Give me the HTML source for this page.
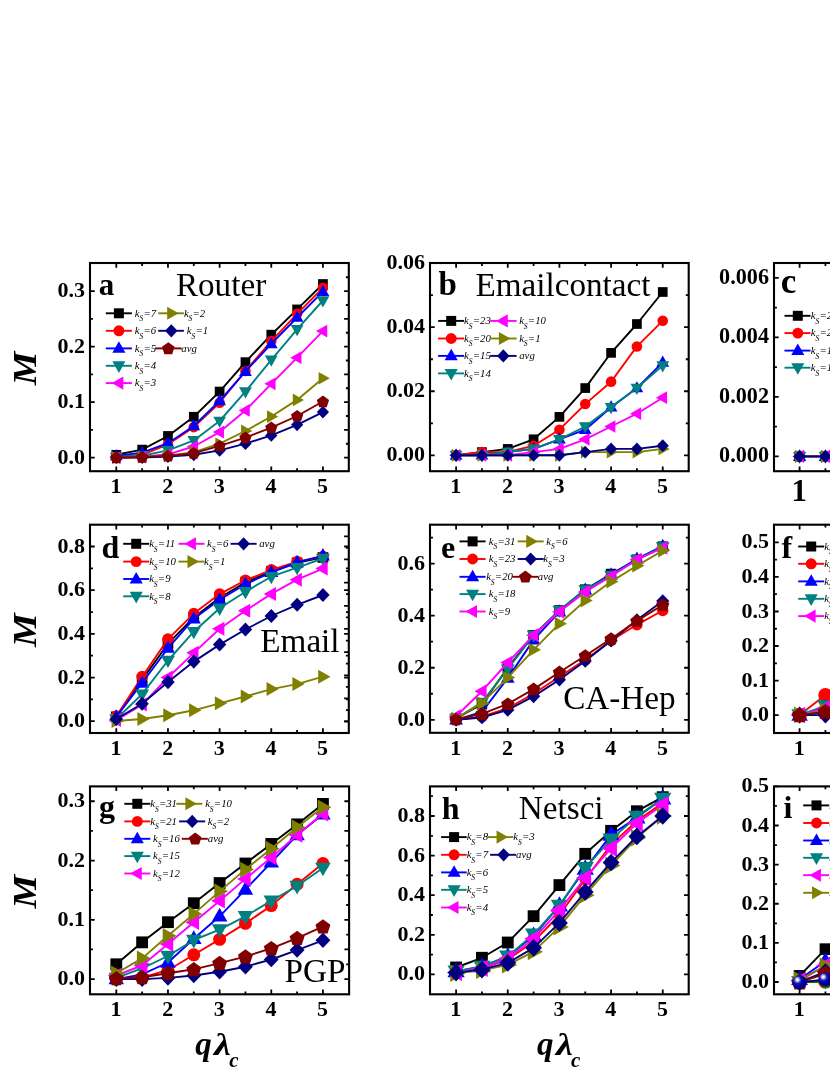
<!DOCTYPE html>
<html><head><meta charset="utf-8"><title>Figure</title>
<style>html,body{margin:0;padding:0;background:#fff}body{width:830px;height:1075px;overflow:hidden;font-family:"Liberation Serif",serif}svg{display:block;will-change:transform}</style>
</head><body>
<svg width="830" height="1075" viewBox="0 0 830 1075" font-family="'Liberation Serif', serif" fill="#000">
<defs><radialGradient id="ball" cx="0.36" cy="0.33" r="0.72" fx="0.34" fy="0.31"><stop offset="0" stop-color="#ffffff"/><stop offset="0.12" stop-color="#e0e0fa"/><stop offset="0.36" stop-color="#1818b8"/><stop offset="0.6" stop-color="#0000a0"/><stop offset="1" stop-color="#000078"/></radialGradient></defs>
<rect width="830" height="1075" fill="#fff"/>
<polyline fill="none" stroke="#000000" stroke-width="1.9" stroke-linejoin="round" points="116.3,454.8 142.1,449.6 168.0,436.0 193.8,416.8 219.6,391.6 245.4,362.1 271.3,334.7 297.1,309.4 322.9,284.0"/>
<rect x="111.45" y="449.98" width="9.7" height="9.7" fill="#000000"/>
<rect x="137.28" y="444.76" width="9.7" height="9.7" fill="#000000"/>
<rect x="163.11" y="431.11" width="9.7" height="9.7" fill="#000000"/>
<rect x="188.94" y="411.9" width="9.7" height="9.7" fill="#000000"/>
<rect x="214.77" y="386.7" width="9.7" height="9.7" fill="#000000"/>
<rect x="240.6" y="357.29" width="9.7" height="9.7" fill="#000000"/>
<rect x="266.43" y="329.82" width="9.7" height="9.7" fill="#000000"/>
<rect x="292.26" y="304.56" width="9.7" height="9.7" fill="#000000"/>
<rect x="318.09" y="279.15" width="9.7" height="9.7" fill="#000000"/>
<polyline fill="none" stroke="#ff0000" stroke-width="1.9" stroke-linejoin="round" points="116.3,457.0 142.1,454.8 168.0,444.3 193.8,427.1 219.6,402.7 245.4,371.0 271.3,341.1 297.1,313.9 322.9,287.8"/>
<circle cx="116.3" cy="457.05" r="5.3" fill="#ff0000"/>
<circle cx="142.13" cy="454.83" r="5.3" fill="#ff0000"/>
<circle cx="167.96" cy="444.28" r="5.3" fill="#ff0000"/>
<circle cx="193.79" cy="427.08" r="5.3" fill="#ff0000"/>
<circle cx="219.62" cy="402.66" r="5.3" fill="#ff0000"/>
<circle cx="245.45" cy="371.02" r="5.3" fill="#ff0000"/>
<circle cx="271.28" cy="341.05" r="5.3" fill="#ff0000"/>
<circle cx="297.11" cy="313.86" r="5.3" fill="#ff0000"/>
<circle cx="322.94" cy="287.77" r="5.3" fill="#ff0000"/>
<polyline fill="none" stroke="#0000ff" stroke-width="1.9" stroke-linejoin="round" points="116.3,455.9 142.1,452.6 168.0,443.2 193.8,426.0 219.6,401.0 245.4,371.6 271.3,343.8 297.1,317.5 322.9,291.7"/>
<polygon points="116.3,449.04 109.95,460.24 122.65,460.24" fill="#0000ff"/>
<polygon points="142.13,445.71 135.78,456.91 148.48,456.91" fill="#0000ff"/>
<polygon points="167.96,436.27 161.61,447.47 174.31,447.47" fill="#0000ff"/>
<polygon points="193.79,419.07 187.44,430.27 200.14,430.27" fill="#0000ff"/>
<polygon points="219.62,394.09 213.27,405.29 225.97,405.29" fill="#0000ff"/>
<polygon points="245.45,364.68 239.1,375.88 251.8,375.88" fill="#0000ff"/>
<polygon points="271.28,336.93 264.93,348.13 277.63,348.13" fill="#0000ff"/>
<polygon points="297.11,310.56 290.76,321.76 303.46,321.76" fill="#0000ff"/>
<polygon points="322.94,284.76 316.59,295.96 329.29,295.96" fill="#0000ff"/>
<polyline fill="none" stroke="#008080" stroke-width="1.9" stroke-linejoin="round" points="116.3,457.0 142.1,455.7 168.0,450.4 193.8,440.4 219.6,421.0 245.4,391.6 271.3,359.9 297.1,329.4 322.9,300.5"/>
<polygon points="116.3,463.94 109.95,452.75 122.65,452.75" fill="#008080"/>
<polygon points="142.13,462.56 135.78,451.36 148.48,451.36" fill="#008080"/>
<polygon points="167.96,457.29 161.61,446.09 174.31,446.09" fill="#008080"/>
<polygon points="193.79,447.3 187.44,436.1 200.14,436.1" fill="#008080"/>
<polygon points="219.62,427.87 213.27,416.67 225.97,416.67" fill="#008080"/>
<polygon points="245.45,398.45 239.1,387.25 251.8,387.25" fill="#008080"/>
<polygon points="271.28,366.82 264.93,355.62 277.63,355.62" fill="#008080"/>
<polygon points="297.11,336.29 290.76,325.09 303.46,325.09" fill="#008080"/>
<polygon points="322.94,307.44 316.59,296.24 329.29,296.24" fill="#008080"/>
<polyline fill="none" stroke="#ff00ff" stroke-width="1.9" stroke-linejoin="round" points="116.3,457.6 142.1,457.0 168.0,454.3 193.8,446.5 219.6,432.1 245.4,410.4 271.3,383.8 297.1,357.7 322.9,331.1"/>
<polygon points="109.4,457.6 120.6,451.25 120.6,463.95" fill="#ff00ff"/>
<polygon points="135.23,457.05 146.43,450.69 146.43,463.4" fill="#ff00ff"/>
<polygon points="161.06,454.27 172.26,447.92 172.26,460.62" fill="#ff00ff"/>
<polygon points="186.89,446.5 198.09,440.15 198.09,452.85" fill="#ff00ff"/>
<polygon points="212.72,432.07 223.92,425.72 223.92,438.42" fill="#ff00ff"/>
<polygon points="238.55,410.43 249.75,404.07 249.75,416.78" fill="#ff00ff"/>
<polygon points="264.38,383.79 275.58,377.44 275.58,390.14" fill="#ff00ff"/>
<polygon points="290.21,357.7 301.41,351.35 301.41,364.05" fill="#ff00ff"/>
<polygon points="316.04,331.06 327.24,324.71 327.24,337.41" fill="#ff00ff"/>
<polyline fill="none" stroke="#808000" stroke-width="1.9" stroke-linejoin="round" points="116.3,457.6 142.1,457.0 168.0,455.7 193.8,452.1 219.6,443.7 245.4,431.0 271.3,416.5 297.1,399.9 322.9,378.2"/>
<polygon points="123.2,457.6 112,451.25 112,463.95" fill="#808000"/>
<polygon points="149.03,457.05 137.83,450.69 137.83,463.4" fill="#808000"/>
<polygon points="174.86,455.66 163.66,449.31 163.66,462.01" fill="#808000"/>
<polygon points="200.69,452.05 189.49,445.7 189.49,458.4" fill="#808000"/>
<polygon points="226.52,443.73 215.32,437.38 215.32,450.08" fill="#808000"/>
<polygon points="252.35,430.96 241.15,424.61 241.15,437.31" fill="#808000"/>
<polygon points="278.18,416.53 266.98,410.18 266.98,422.88" fill="#808000"/>
<polygon points="304.01,399.88 292.81,393.53 292.81,406.23" fill="#808000"/>
<polygon points="329.84,378.24 318.64,371.88 318.64,384.59" fill="#808000"/>
<polyline fill="none" stroke="#000080" stroke-width="1.9" stroke-linejoin="round" points="116.3,457.6 142.1,457.6 168.0,456.5 193.8,454.8 219.6,450.4 245.4,443.7 271.3,435.4 297.1,424.9 322.9,412.1"/>
<polygon points="116.3,451.2 122.4,457.6 116.3,464 110.2,457.6" fill="#000080"/>
<polygon points="142.13,451.2 148.23,457.6 142.13,464 136.03,457.6" fill="#000080"/>
<polygon points="167.96,450.09 174.06,456.49 167.96,462.89 161.86,456.49" fill="#000080"/>
<polygon points="193.79,448.43 199.89,454.83 193.79,461.23 187.69,454.83" fill="#000080"/>
<polygon points="219.62,443.99 225.72,450.39 219.62,456.79 213.52,450.39" fill="#000080"/>
<polygon points="245.45,437.33 251.55,443.73 245.45,450.12 239.35,443.73" fill="#000080"/>
<polygon points="271.28,429 277.38,435.4 271.28,441.8 265.18,435.4" fill="#000080"/>
<polygon points="297.11,418.46 303.21,424.86 297.11,431.25 291.01,424.86" fill="#000080"/>
<polygon points="322.94,405.69 329.04,412.09 322.94,418.49 316.84,412.09" fill="#000080"/>
<polyline fill="none" stroke="#800000" stroke-width="1.9" stroke-linejoin="round" points="116.3,457.6 142.1,457.0 168.0,455.9 193.8,453.2 219.6,445.9 245.4,437.6 271.3,427.6 297.1,416.0 322.9,401.5"/>
<polygon points="116.3,451.55 122.43,456.01 120.09,463.22 112.51,463.22 110.17,456.01" fill="#800000"/>
<polygon points="142.13,451 148.26,455.45 145.92,462.66 138.34,462.66 136,455.45" fill="#800000"/>
<polygon points="167.96,449.88 174.09,454.34 171.75,461.55 164.17,461.55 161.83,454.34" fill="#800000"/>
<polygon points="193.79,447.11 199.92,451.57 197.58,458.78 190,458.78 187.66,451.57" fill="#800000"/>
<polygon points="219.62,439.9 225.75,444.35 223.41,451.56 215.83,451.56 213.49,444.35" fill="#800000"/>
<polygon points="245.45,431.57 251.58,436.03 249.24,443.24 241.66,443.24 239.32,436.03" fill="#800000"/>
<polygon points="271.28,421.58 277.41,426.04 275.07,433.25 267.49,433.25 265.15,426.04" fill="#800000"/>
<polygon points="297.11,409.93 303.24,414.38 300.9,421.59 293.32,421.59 290.98,414.38" fill="#800000"/>
<polygon points="322.94,395.5 329.07,399.95 326.73,407.16 319.15,407.16 316.81,399.95" fill="#800000"/>
<path d="M116.30 471.20v-4.70 M116.30 263.00v4.70 M167.96 471.20v-4.70 M167.96 263.00v4.70 M219.62 471.20v-4.70 M219.62 263.00v4.70 M271.28 471.20v-4.70 M271.28 263.00v4.70 M322.94 471.20v-4.70 M322.94 263.00v4.70 M142.13 471.20v-2.90 M142.13 263.00v2.90 M193.79 471.20v-2.90 M193.79 263.00v2.90 M245.45 471.20v-2.90 M245.45 263.00v2.90 M297.11 471.20v-2.90 M297.11 263.00v2.90 M90.00 457.60h4.70 M90.00 402.10h4.70 M90.00 346.60h4.70 M90.00 291.10h4.70 M90.00 429.85h2.90 M90.00 374.35h2.90 M90.00 318.85h2.90 M348.80 457.60h-4.70 M348.80 429.85h-4.70 M348.80 402.10h-4.70 M348.80 374.35h-4.70 M348.80 346.60h-4.70 M348.80 318.85h-4.70 M348.80 291.10h-4.70 M348.80 443.73h-2.90 M348.80 415.98h-2.90 M348.80 388.23h-2.90 M348.80 360.48h-2.90 M348.80 332.73h-2.90 M348.80 304.98h-2.90 M348.80 277.23h-2.90" stroke="#000" stroke-width="1.8" fill="none"/>
<rect x="90.00" y="263.00" width="258.80" height="208.20" fill="none" stroke="#000" stroke-width="2.1"/>
<text x="116.0" y="493.2" text-anchor="middle" font-weight="bold" font-size="22">1</text>
<text x="167.7" y="493.2" text-anchor="middle" font-weight="bold" font-size="22">2</text>
<text x="219.3" y="493.2" text-anchor="middle" font-weight="bold" font-size="22">3</text>
<text x="271.0" y="493.2" text-anchor="middle" font-weight="bold" font-size="22">4</text>
<text x="322.6" y="493.2" text-anchor="middle" font-weight="bold" font-size="22">5</text>
<text x="85.0" y="463.6" text-anchor="end" font-weight="bold" font-size="22">0.0</text>
<text x="85.0" y="408.1" text-anchor="end" font-weight="bold" font-size="22">0.1</text>
<text x="85.0" y="352.6" text-anchor="end" font-weight="bold" font-size="22">0.2</text>
<text x="85.0" y="297.1" text-anchor="end" font-weight="bold" font-size="22">0.3</text>
<text x="98.8" y="295.4" font-weight="bold" font-size="31">a</text>
<text x="175.9" y="296.2" font-size="33.2">Router</text>
<path d="M105.8 313.3H131.9" stroke="#000000" stroke-width="1.9"/>
<rect x="113.9" y="308.3" width="9.99" height="9.99" fill="#000000"/>
<text x="134.8" y="316.6" font-style="italic" font-size="10.8">k<tspan font-size="7.5" dy="4.6" dx="-0.2">S</tspan><tspan dy="-4.6" dx="0.3">=7</tspan></text>
<path d="M105.8 330.8H131.9" stroke="#ff0000" stroke-width="1.9"/>
<circle cx="118.9" cy="330.8" r="5.46" fill="#ff0000"/>
<text x="134.8" y="334.1" font-style="italic" font-size="10.8">k<tspan font-size="7.5" dy="4.6" dx="-0.2">S</tspan><tspan dy="-4.6" dx="0.3">=6</tspan></text>
<path d="M105.8 348.4H131.9" stroke="#0000ff" stroke-width="1.9"/>
<polygon points="118.9,341.29 112.36,352.83 125.44,352.83" fill="#0000ff"/>
<text x="134.8" y="351.7" font-style="italic" font-size="10.8">k<tspan font-size="7.5" dy="4.6" dx="-0.2">S</tspan><tspan dy="-4.6" dx="0.3">=5</tspan></text>
<path d="M105.8 365.8H131.9" stroke="#008080" stroke-width="1.9"/>
<polygon points="118.9,372.91 112.36,361.37 125.44,361.37" fill="#008080"/>
<text x="134.8" y="369.1" font-style="italic" font-size="10.8">k<tspan font-size="7.5" dy="4.6" dx="-0.2">S</tspan><tspan dy="-4.6" dx="0.3">=4</tspan></text>
<path d="M105.8 383.1H131.9" stroke="#ff00ff" stroke-width="1.9"/>
<polygon points="111.79,383.1 123.33,376.56 123.33,389.64" fill="#ff00ff"/>
<text x="134.8" y="386.4" font-style="italic" font-size="10.8">k<tspan font-size="7.5" dy="4.6" dx="-0.2">S</tspan><tspan dy="-4.6" dx="0.3">=3</tspan></text>
<path d="M158.2 313.3H183.9" stroke="#808000" stroke-width="1.9"/>
<polygon points="178.71,313.3 167.17,306.76 167.17,319.84" fill="#808000"/>
<text x="183.9" y="316.6" font-style="italic" font-size="10.8">k<tspan font-size="7.5" dy="4.6" dx="-0.2">S</tspan><tspan dy="-4.6" dx="0.3">=2</tspan></text>
<path d="M158.2 330.8H183.9" stroke="#000080" stroke-width="1.9"/>
<polygon points="171.3,324.21 177.58,330.8 171.3,337.39 165.02,330.8" fill="#000080"/>
<text x="186.8" y="334.1" font-style="italic" font-size="10.8">k<tspan font-size="7.5" dy="4.6" dx="-0.2">S</tspan><tspan dy="-4.6" dx="0.3">=1</tspan></text>
<path d="M155.0 348.4H181.7" stroke="#800000" stroke-width="1.9"/>
<polygon points="168.3,342.17 174.62,346.76 172.2,354.19 164.4,354.19 161.98,346.76" fill="#800000"/>
<text x="181.3" y="351.7" font-style="italic" font-size="10.8">avg</text>
<polyline fill="none" stroke="#000000" stroke-width="1.9" stroke-linejoin="round" points="456.1,455.3 481.9,452.1 507.8,448.9 533.6,439.3 559.4,416.9 585.2,388.1 611.1,352.8 636.9,324.0 662.7,292.0"/>
<rect x="451.25" y="450.45" width="9.7" height="9.7" fill="#000000"/>
<rect x="477.08" y="447.25" width="9.7" height="9.7" fill="#000000"/>
<rect x="502.91" y="444.05" width="9.7" height="9.7" fill="#000000"/>
<rect x="528.74" y="434.44" width="9.7" height="9.7" fill="#000000"/>
<rect x="554.57" y="412.03" width="9.7" height="9.7" fill="#000000"/>
<rect x="580.4" y="383.21" width="9.7" height="9.7" fill="#000000"/>
<rect x="606.23" y="347.99" width="9.7" height="9.7" fill="#000000"/>
<rect x="632.06" y="319.17" width="9.7" height="9.7" fill="#000000"/>
<rect x="657.89" y="287.15" width="9.7" height="9.7" fill="#000000"/>
<polyline fill="none" stroke="#ff0000" stroke-width="1.9" stroke-linejoin="round" points="456.1,455.3 481.9,452.1 507.8,452.1 533.6,445.7 559.4,429.7 585.2,404.1 611.1,381.7 636.9,346.4 662.7,320.8"/>
<circle cx="456.1" cy="455.3" r="5.3" fill="#ff0000"/>
<circle cx="481.93" cy="452.1" r="5.3" fill="#ff0000"/>
<circle cx="507.76" cy="452.1" r="5.3" fill="#ff0000"/>
<circle cx="533.59" cy="445.69" r="5.3" fill="#ff0000"/>
<circle cx="559.42" cy="429.68" r="5.3" fill="#ff0000"/>
<circle cx="585.25" cy="404.07" r="5.3" fill="#ff0000"/>
<circle cx="611.08" cy="381.65" r="5.3" fill="#ff0000"/>
<circle cx="636.91" cy="346.43" r="5.3" fill="#ff0000"/>
<circle cx="662.74" cy="320.82" r="5.3" fill="#ff0000"/>
<polyline fill="none" stroke="#0000ff" stroke-width="1.9" stroke-linejoin="round" points="456.1,455.3 481.9,455.3 507.8,452.1 533.6,448.9 559.4,439.3 585.2,429.7 611.1,407.3 636.9,388.1 662.7,362.4"/>
<polygon points="456.1,448.4 449.75,459.6 462.45,459.6" fill="#0000ff"/>
<polygon points="481.93,448.4 475.58,459.6 488.28,459.6" fill="#0000ff"/>
<polygon points="507.76,445.2 501.41,456.4 514.11,456.4" fill="#0000ff"/>
<polygon points="533.59,442 527.24,453.2 539.94,453.2" fill="#0000ff"/>
<polygon points="559.42,432.39 553.07,443.59 565.77,443.59" fill="#0000ff"/>
<polygon points="585.25,422.78 578.9,433.98 591.6,433.98" fill="#0000ff"/>
<polygon points="611.08,400.37 604.73,411.57 617.43,411.57" fill="#0000ff"/>
<polygon points="636.91,381.16 630.56,392.36 643.26,392.36" fill="#0000ff"/>
<polygon points="662.74,355.54 656.39,366.74 669.09,366.74" fill="#0000ff"/>
<polyline fill="none" stroke="#008080" stroke-width="1.9" stroke-linejoin="round" points="456.1,455.3 481.9,455.3 507.8,452.1 533.6,448.9 559.4,439.3 585.2,426.5 611.1,407.3 636.9,388.1 662.7,365.6"/>
<polygon points="456.1,462.2 449.75,451 462.45,451" fill="#008080"/>
<polygon points="481.93,462.2 475.58,451 488.28,451" fill="#008080"/>
<polygon points="507.76,459 501.41,447.8 514.11,447.8" fill="#008080"/>
<polygon points="533.59,455.8 527.24,444.6 539.94,444.6" fill="#008080"/>
<polygon points="559.42,446.19 553.07,434.99 565.77,434.99" fill="#008080"/>
<polygon points="585.25,433.38 578.9,422.18 591.6,422.18" fill="#008080"/>
<polygon points="611.08,414.17 604.73,402.97 617.43,402.97" fill="#008080"/>
<polygon points="636.91,394.96 630.56,383.76 643.26,383.76" fill="#008080"/>
<polygon points="662.74,372.54 656.39,361.34 669.09,361.34" fill="#008080"/>
<polyline fill="none" stroke="#ff00ff" stroke-width="1.9" stroke-linejoin="round" points="456.1,455.3 481.9,455.3 507.8,455.3 533.6,452.1 559.4,448.9 585.2,439.3 611.1,426.5 636.9,413.7 662.7,397.7"/>
<polygon points="449.2,455.3 460.4,448.95 460.4,461.65" fill="#ff00ff"/>
<polygon points="475.03,455.3 486.23,448.95 486.23,461.65" fill="#ff00ff"/>
<polygon points="500.86,455.3 512.06,448.95 512.06,461.65" fill="#ff00ff"/>
<polygon points="526.69,452.1 537.89,445.75 537.89,458.45" fill="#ff00ff"/>
<polygon points="552.52,448.9 563.72,442.55 563.72,455.25" fill="#ff00ff"/>
<polygon points="578.35,439.29 589.55,432.94 589.55,445.64" fill="#ff00ff"/>
<polygon points="604.18,426.48 615.38,420.13 615.38,432.83" fill="#ff00ff"/>
<polygon points="630.01,413.67 641.21,407.32 641.21,420.02" fill="#ff00ff"/>
<polygon points="655.84,397.66 667.04,391.31 667.04,404.01" fill="#ff00ff"/>
<polyline fill="none" stroke="#808000" stroke-width="1.9" stroke-linejoin="round" points="456.1,455.3 481.9,455.3 507.8,455.3 533.6,455.3 559.4,455.3 585.2,452.1 611.1,452.1 636.9,452.1 662.7,448.9"/>
<polygon points="463,455.3 451.8,448.95 451.8,461.65" fill="#808000"/>
<polygon points="488.83,455.3 477.63,448.95 477.63,461.65" fill="#808000"/>
<polygon points="514.66,455.3 503.46,448.95 503.46,461.65" fill="#808000"/>
<polygon points="540.49,455.3 529.29,448.95 529.29,461.65" fill="#808000"/>
<polygon points="566.32,455.3 555.12,448.95 555.12,461.65" fill="#808000"/>
<polygon points="592.15,452.1 580.95,445.75 580.95,458.45" fill="#808000"/>
<polygon points="617.98,452.1 606.78,445.75 606.78,458.45" fill="#808000"/>
<polygon points="643.81,452.1 632.61,445.75 632.61,458.45" fill="#808000"/>
<polygon points="669.64,448.9 658.44,442.55 658.44,455.25" fill="#808000"/>
<polyline fill="none" stroke="#000080" stroke-width="1.9" stroke-linejoin="round" points="456.1,455.3 481.9,455.3 507.8,455.3 533.6,455.3 559.4,455.3 585.2,452.1 611.1,448.9 636.9,448.9 662.7,445.7"/>
<polygon points="456.1,448.9 462.2,455.3 456.1,461.7 450,455.3" fill="#000080"/>
<polygon points="481.93,448.9 488.03,455.3 481.93,461.7 475.83,455.3" fill="#000080"/>
<polygon points="507.76,448.9 513.86,455.3 507.76,461.7 501.66,455.3" fill="#000080"/>
<polygon points="533.59,448.9 539.69,455.3 533.59,461.7 527.49,455.3" fill="#000080"/>
<polygon points="559.42,448.9 565.52,455.3 559.42,461.7 553.32,455.3" fill="#000080"/>
<polygon points="585.25,445.7 591.35,452.1 585.25,458.5 579.15,452.1" fill="#000080"/>
<polygon points="611.08,442.5 617.18,448.9 611.08,455.3 604.98,448.9" fill="#000080"/>
<polygon points="636.91,442.5 643.01,448.9 636.91,455.3 630.81,448.9" fill="#000080"/>
<polygon points="662.74,439.29 668.84,445.69 662.74,452.09 656.64,445.69" fill="#000080"/>
<path d="M456.10 471.20v-4.70 M456.10 263.00v4.70 M507.76 471.20v-4.70 M507.76 263.00v4.70 M559.42 471.20v-4.70 M559.42 263.00v4.70 M611.08 471.20v-4.70 M611.08 263.00v4.70 M662.74 471.20v-4.70 M662.74 263.00v4.70 M481.93 471.20v-2.90 M481.93 263.00v2.90 M533.59 471.20v-2.90 M533.59 263.00v2.90 M585.25 471.20v-2.90 M585.25 263.00v2.90 M636.91 471.20v-2.90 M636.91 263.00v2.90 M430.00 455.30h4.70 M688.70 455.30h-4.70 M430.00 391.26h4.70 M688.70 391.26h-4.70 M430.00 327.22h4.70 M688.70 327.22h-4.70 M430.00 263.18h4.70 M688.70 263.18h-4.70 M430.00 423.28h2.90 M688.70 423.28h-2.90 M430.00 359.24h2.90 M688.70 359.24h-2.90 M430.00 295.20h2.90 M688.70 295.20h-2.90" stroke="#000" stroke-width="1.8" fill="none"/>
<rect x="430.00" y="263.00" width="258.70" height="208.20" fill="none" stroke="#000" stroke-width="2.1"/>
<text x="455.8" y="493.2" text-anchor="middle" font-weight="bold" font-size="22">1</text>
<text x="507.5" y="493.2" text-anchor="middle" font-weight="bold" font-size="22">2</text>
<text x="559.1" y="493.2" text-anchor="middle" font-weight="bold" font-size="22">3</text>
<text x="610.8" y="493.2" text-anchor="middle" font-weight="bold" font-size="22">4</text>
<text x="662.4" y="493.2" text-anchor="middle" font-weight="bold" font-size="22">5</text>
<text x="425.0" y="461.3" text-anchor="end" font-weight="bold" font-size="22">0.00</text>
<text x="425.0" y="397.3" text-anchor="end" font-weight="bold" font-size="22">0.02</text>
<text x="425.0" y="333.2" text-anchor="end" font-weight="bold" font-size="22">0.04</text>
<text x="425.0" y="269.2" text-anchor="end" font-weight="bold" font-size="22">0.06</text>
<text x="438.6" y="294.6" font-weight="bold" font-size="33">b</text>
<text x="475.4" y="296.4" font-size="33.2">Emailcontact</text>
<path d="M438.1 320.9H464.1" stroke="#000000" stroke-width="1.9"/>
<rect x="446.2" y="315.9" width="9.99" height="9.99" fill="#000000"/>
<text x="464.1" y="324.2" font-style="italic" font-size="10.8">k<tspan font-size="7.5" dy="4.6" dx="-0.2">S</tspan><tspan dy="-4.6" dx="0.3">=23</tspan></text>
<path d="M438.1 338.5H464.1" stroke="#ff0000" stroke-width="1.9"/>
<circle cx="451.2" cy="338.5" r="5.46" fill="#ff0000"/>
<text x="464.1" y="341.8" font-style="italic" font-size="10.8">k<tspan font-size="7.5" dy="4.6" dx="-0.2">S</tspan><tspan dy="-4.6" dx="0.3">=20</tspan></text>
<path d="M438.1 355.9H464.1" stroke="#0000ff" stroke-width="1.9"/>
<polygon points="451.2,348.79 444.66,360.33 457.74,360.33" fill="#0000ff"/>
<text x="464.1" y="359.2" font-style="italic" font-size="10.8">k<tspan font-size="7.5" dy="4.6" dx="-0.2">S</tspan><tspan dy="-4.6" dx="0.3">=15</tspan></text>
<path d="M438.1 373.4H464.1" stroke="#008080" stroke-width="1.9"/>
<polygon points="451.2,380.51 444.66,368.97 457.74,368.97" fill="#008080"/>
<text x="464.1" y="376.7" font-style="italic" font-size="10.8">k<tspan font-size="7.5" dy="4.6" dx="-0.2">S</tspan><tspan dy="-4.6" dx="0.3">=14</tspan></text>
<path d="M490.1 320.9H516.6" stroke="#ff00ff" stroke-width="1.9"/>
<polygon points="496.19,320.9 507.73,314.36 507.73,327.44" fill="#ff00ff"/>
<text x="519.2" y="324.2" font-style="italic" font-size="10.8">k<tspan font-size="7.5" dy="4.6" dx="-0.2">S</tspan><tspan dy="-4.6" dx="0.3">=10</tspan></text>
<path d="M490.1 338.5H516.6" stroke="#808000" stroke-width="1.9"/>
<polygon points="510.41,338.5 498.87,331.96 498.87,345.04" fill="#808000"/>
<text x="519.2" y="341.8" font-style="italic" font-size="10.8">k<tspan font-size="7.5" dy="4.6" dx="-0.2">S</tspan><tspan dy="-4.6" dx="0.3">=1</tspan></text>
<path d="M490.1 355.9H516.6" stroke="#000080" stroke-width="1.9"/>
<polygon points="503.3,349.31 509.58,355.9 503.3,362.49 497.02,355.9" fill="#000080"/>
<text x="519.2" y="359.2" font-style="italic" font-size="10.8">avg</text>
<polyline fill="none" stroke="#000000" stroke-width="1.9" stroke-linejoin="round" points="799.6,456.4 825.4,456.4 851.3,456.4 877.1,456.4 902.9,456.4 928.8,456.4 954.6,456.4 980.4,456.4 1006.2,456.4"/>
<rect x="794.51" y="451.31" width="10.19" height="10.19" fill="#000000"/>
<rect x="820.34" y="451.31" width="10.19" height="10.19" fill="#000000"/>
<rect x="846.17" y="451.31" width="10.19" height="10.19" fill="#000000"/>
<rect x="872" y="451.31" width="10.19" height="10.19" fill="#000000"/>
<rect x="897.83" y="451.31" width="10.19" height="10.19" fill="#000000"/>
<rect x="923.66" y="451.31" width="10.19" height="10.19" fill="#000000"/>
<rect x="949.49" y="451.31" width="10.19" height="10.19" fill="#000000"/>
<rect x="975.32" y="451.31" width="10.19" height="10.19" fill="#000000"/>
<rect x="1001.15" y="451.31" width="10.19" height="10.19" fill="#000000"/>
<polyline fill="none" stroke="#ff0000" stroke-width="1.9" stroke-linejoin="round" points="799.6,456.4 825.4,456.4 851.3,456.4 877.1,456.4 902.9,456.4 928.8,456.4 954.6,456.4 980.4,456.4 1006.2,456.4"/>
<circle cx="799.6" cy="456.4" r="5.57" fill="#ff0000"/>
<circle cx="825.43" cy="456.4" r="5.57" fill="#ff0000"/>
<circle cx="851.26" cy="456.4" r="5.57" fill="#ff0000"/>
<circle cx="877.09" cy="456.4" r="5.57" fill="#ff0000"/>
<circle cx="902.92" cy="456.4" r="5.57" fill="#ff0000"/>
<circle cx="928.75" cy="456.4" r="5.57" fill="#ff0000"/>
<circle cx="954.58" cy="456.4" r="5.57" fill="#ff0000"/>
<circle cx="980.41" cy="456.4" r="5.57" fill="#ff0000"/>
<circle cx="1006.24" cy="456.4" r="5.57" fill="#ff0000"/>
<polyline fill="none" stroke="#0000ff" stroke-width="1.9" stroke-linejoin="round" points="799.6,456.4 825.4,456.4 851.3,456.4 877.1,456.4 902.9,456.4 928.8,456.4 954.6,456.4 980.4,456.4 1006.2,456.4"/>
<polygon points="799.6,449.15 792.93,460.91 806.27,460.91" fill="#0000ff"/>
<polygon points="825.43,449.15 818.76,460.91 832.1,460.91" fill="#0000ff"/>
<polygon points="851.26,449.15 844.59,460.91 857.93,460.91" fill="#0000ff"/>
<polygon points="877.09,449.15 870.42,460.91 883.76,460.91" fill="#0000ff"/>
<polygon points="902.92,449.15 896.25,460.91 909.59,460.91" fill="#0000ff"/>
<polygon points="928.75,449.15 922.08,460.91 935.42,460.91" fill="#0000ff"/>
<polygon points="954.58,449.15 947.91,460.91 961.25,460.91" fill="#0000ff"/>
<polygon points="980.41,449.15 973.74,460.91 987.08,460.91" fill="#0000ff"/>
<polygon points="1006.24,449.15 999.57,460.91 1012.91,460.91" fill="#0000ff"/>
<polyline fill="none" stroke="#008080" stroke-width="1.9" stroke-linejoin="round" points="799.6,456.4 825.4,456.4 851.3,456.4 877.1,456.4 902.9,456.4 928.8,456.4 954.6,456.4 980.4,456.4 1006.2,456.4"/>
<polygon points="799.6,463.64 792.93,451.88 806.27,451.88" fill="#008080"/>
<polygon points="825.43,463.64 818.76,451.88 832.1,451.88" fill="#008080"/>
<polygon points="851.26,463.64 844.59,451.88 857.93,451.88" fill="#008080"/>
<polygon points="877.09,463.64 870.42,451.88 883.76,451.88" fill="#008080"/>
<polygon points="902.92,463.64 896.25,451.88 909.59,451.88" fill="#008080"/>
<polygon points="928.75,463.64 922.08,451.88 935.42,451.88" fill="#008080"/>
<polygon points="954.58,463.64 947.91,451.88 961.25,451.88" fill="#008080"/>
<polygon points="980.41,463.64 973.74,451.88 987.08,451.88" fill="#008080"/>
<polygon points="1006.24,463.64 999.57,451.88 1012.91,451.88" fill="#008080"/>
<polyline fill="none" stroke="#ff00ff" stroke-width="1.9" stroke-linejoin="round" points="799.6,456.4 825.4,456.4 851.3,456.4 877.1,456.4 902.9,456.4 928.8,456.4 954.6,456.4 980.4,456.4 1006.2,456.4"/>
<polygon points="792.36,456.4 804.12,449.73 804.12,463.07" fill="#ff00ff"/>
<polygon points="818.19,456.4 829.95,449.73 829.95,463.07" fill="#ff00ff"/>
<polygon points="844.01,456.4 855.77,449.73 855.77,463.07" fill="#ff00ff"/>
<polygon points="869.85,456.4 881.61,449.73 881.61,463.07" fill="#ff00ff"/>
<polygon points="895.68,456.4 907.44,449.73 907.44,463.07" fill="#ff00ff"/>
<polygon points="921.5,456.4 933.26,449.73 933.26,463.07" fill="#ff00ff"/>
<polygon points="947.34,456.4 959.1,449.73 959.1,463.07" fill="#ff00ff"/>
<polygon points="973.17,456.4 984.93,449.73 984.93,463.07" fill="#ff00ff"/>
<polygon points="999,456.4 1010.75,449.73 1010.75,463.07" fill="#ff00ff"/>
<polyline fill="none" stroke="#808000" stroke-width="1.9" stroke-linejoin="round" points="799.6,456.4 825.4,456.4 851.3,456.4 877.1,456.4 902.9,456.4 928.8,456.4 954.6,456.4 980.4,456.4 1006.2,456.4"/>
<polygon points="806.85,456.4 795.09,449.73 795.09,463.07" fill="#808000"/>
<polygon points="832.68,456.4 820.92,449.73 820.92,463.07" fill="#808000"/>
<polygon points="858.5,456.4 846.75,449.73 846.75,463.07" fill="#808000"/>
<polygon points="884.34,456.4 872.58,449.73 872.58,463.07" fill="#808000"/>
<polygon points="910.17,456.4 898.41,449.73 898.41,463.07" fill="#808000"/>
<polygon points="936,456.4 924.24,449.73 924.24,463.07" fill="#808000"/>
<polygon points="961.83,456.4 950.07,449.73 950.07,463.07" fill="#808000"/>
<polygon points="987.66,456.4 975.9,449.73 975.9,463.07" fill="#808000"/>
<polygon points="1013.49,456.4 1001.73,449.73 1001.73,463.07" fill="#808000"/>
<polyline fill="none" stroke="#000080" stroke-width="1.9" stroke-linejoin="round" points="799.6,456.4 825.4,456.4 851.3,456.4 877.1,456.4 902.9,456.4 928.8,456.4 954.6,456.4 980.4,456.4 1006.2,456.4"/>
<polygon points="799.6,449.68 806,456.4 799.6,463.12 793.2,456.4" fill="#000080"/>
<polygon points="825.43,449.68 831.84,456.4 825.43,463.12 819.03,456.4" fill="#000080"/>
<polygon points="851.26,449.68 857.66,456.4 851.26,463.12 844.86,456.4" fill="#000080"/>
<polygon points="877.09,449.68 883.5,456.4 877.09,463.12 870.69,456.4" fill="#000080"/>
<polygon points="902.92,449.68 909.33,456.4 902.92,463.12 896.52,456.4" fill="#000080"/>
<polygon points="928.75,449.68 935.15,456.4 928.75,463.12 922.35,456.4" fill="#000080"/>
<polygon points="954.58,449.68 960.99,456.4 954.58,463.12 948.18,456.4" fill="#000080"/>
<polygon points="980.41,449.68 986.82,456.4 980.41,463.12 974.01,456.4" fill="#000080"/>
<polygon points="1006.24,449.68 1012.64,456.4 1006.24,463.12 999.84,456.4" fill="#000080"/>
<path d="M799.60 471.20v-4.70 M799.60 263.00v4.70 M851.26 471.20v-4.70 M851.26 263.00v4.70 M902.92 471.20v-4.70 M902.92 263.00v4.70 M954.58 471.20v-4.70 M954.58 263.00v4.70 M1006.24 471.20v-4.70 M1006.24 263.00v4.70 M825.43 471.20v-2.90 M825.43 263.00v2.90 M877.09 471.20v-2.90 M877.09 263.00v2.90 M928.75 471.20v-2.90 M928.75 263.00v2.90 M980.41 471.20v-2.90 M980.41 263.00v2.90 M774.00 456.40h4.70 M1033.00 456.40h-4.70 M774.00 396.90h4.70 M1033.00 396.90h-4.70 M774.00 337.40h4.70 M1033.00 337.40h-4.70 M774.00 277.90h4.70 M1033.00 277.90h-4.70 M774.00 426.65h2.90 M1033.00 426.65h-2.90 M774.00 367.15h2.90 M1033.00 367.15h-2.90 M774.00 307.65h2.90 M1033.00 307.65h-2.90" stroke="#000" stroke-width="1.8" fill="none"/>
<rect x="774.00" y="263.00" width="259.00" height="208.20" fill="none" stroke="#000" stroke-width="2.1"/>
<text x="799.3" y="500.7" text-anchor="middle" font-weight="bold" font-size="31">1</text>
<text x="851.0" y="500.7" text-anchor="middle" font-weight="bold" font-size="31">2</text>
<text x="902.6" y="500.7" text-anchor="middle" font-weight="bold" font-size="31">3</text>
<text x="954.3" y="500.7" text-anchor="middle" font-weight="bold" font-size="31">4</text>
<text x="1005.9" y="500.7" text-anchor="middle" font-weight="bold" font-size="31">5</text>
<text x="769.0" y="462.4" text-anchor="end" font-weight="bold" font-size="22.2">0.000</text>
<text x="769.0" y="402.9" text-anchor="end" font-weight="bold" font-size="22.2">0.002</text>
<text x="769.0" y="343.4" text-anchor="end" font-weight="bold" font-size="22.2">0.004</text>
<text x="769.0" y="283.9" text-anchor="end" font-weight="bold" font-size="22.2">0.006</text>
<text x="780.8" y="293.3" font-weight="bold" font-size="35">c</text>
<path d="M784.5 315.8H810.5" stroke="#000000" stroke-width="1.9"/>
<rect x="792.8" y="310.8" width="9.99" height="9.99" fill="#000000"/>
<text x="810.8" y="319.1" font-style="italic" font-size="10.8">k<tspan font-size="7.5" dy="4.6" dx="-0.2">S</tspan><tspan dy="-4.6" dx="0.3">=23</tspan></text>
<path d="M784.5 333.1H810.5" stroke="#ff0000" stroke-width="1.9"/>
<circle cx="797.8" cy="333.1" r="5.46" fill="#ff0000"/>
<text x="810.8" y="336.4" font-style="italic" font-size="10.8">k<tspan font-size="7.5" dy="4.6" dx="-0.2">S</tspan><tspan dy="-4.6" dx="0.3">=20</tspan></text>
<path d="M784.5 350.6H810.5" stroke="#0000ff" stroke-width="1.9"/>
<polygon points="797.8,343.49 791.26,355.03 804.34,355.03" fill="#0000ff"/>
<text x="810.8" y="353.9" font-style="italic" font-size="10.8">k<tspan font-size="7.5" dy="4.6" dx="-0.2">S</tspan><tspan dy="-4.6" dx="0.3">=15</tspan></text>
<path d="M784.5 367.7H810.5" stroke="#008080" stroke-width="1.9"/>
<polygon points="797.8,374.81 791.26,363.27 804.34,363.27" fill="#008080"/>
<text x="810.8" y="371.0" font-style="italic" font-size="10.8">k<tspan font-size="7.5" dy="4.6" dx="-0.2">S</tspan><tspan dy="-4.6" dx="0.3">=14</tspan></text>
<polyline fill="none" stroke="#000000" stroke-width="1.9" stroke-linejoin="round" points="116.3,716.8 142.1,679.7 168.0,643.7 193.8,617.5 219.6,597.8 245.4,582.5 271.3,571.6 297.1,562.9 322.9,557.4"/>
<rect x="110.97" y="711.5" width="10.67" height="10.67" fill="#000000"/>
<rect x="136.79" y="674.38" width="10.67" height="10.67" fill="#000000"/>
<rect x="162.62" y="638.35" width="10.67" height="10.67" fill="#000000"/>
<rect x="188.45" y="612.15" width="10.67" height="10.67" fill="#000000"/>
<rect x="214.28" y="592.5" width="10.67" height="10.67" fill="#000000"/>
<rect x="240.11" y="577.21" width="10.67" height="10.67" fill="#000000"/>
<rect x="265.94" y="566.3" width="10.67" height="10.67" fill="#000000"/>
<rect x="291.78" y="557.56" width="10.67" height="10.67" fill="#000000"/>
<rect x="317.61" y="552.1" width="10.67" height="10.67" fill="#000000"/>
<polyline fill="none" stroke="#ff0000" stroke-width="1.9" stroke-linejoin="round" points="116.3,716.2 142.1,676.7 168.0,639.1 193.8,613.6 219.6,594.1 245.4,580.4 271.3,569.9 297.1,561.6 322.9,556.6"/>
<circle cx="116.3" cy="716.18" r="5.83" fill="#ff0000"/>
<circle cx="142.13" cy="676.66" r="5.83" fill="#ff0000"/>
<circle cx="167.96" cy="639.1" r="5.83" fill="#ff0000"/>
<circle cx="193.79" cy="613.55" r="5.83" fill="#ff0000"/>
<circle cx="219.62" cy="594.12" r="5.83" fill="#ff0000"/>
<circle cx="245.45" cy="580.36" r="5.83" fill="#ff0000"/>
<circle cx="271.28" cy="569.88" r="5.83" fill="#ff0000"/>
<circle cx="297.11" cy="561.59" r="5.83" fill="#ff0000"/>
<circle cx="322.94" cy="556.56" r="5.83" fill="#ff0000"/>
<polyline fill="none" stroke="#0000ff" stroke-width="1.9" stroke-linejoin="round" points="116.3,716.8 142.1,683.0 168.0,648.1 193.8,618.8 219.6,599.8 245.4,584.3 271.3,572.3 297.1,562.5 322.9,555.7"/>
<polygon points="116.3,709.24 109.31,721.56 123.28,721.56" fill="#0000ff"/>
<polygon points="142.13,675.4 135.14,687.72 149.12,687.72" fill="#0000ff"/>
<polygon points="167.96,640.46 160.97,652.78 174.94,652.78" fill="#0000ff"/>
<polygon points="193.79,611.2 186.8,623.52 200.78,623.52" fill="#0000ff"/>
<polygon points="219.62,592.21 212.63,604.53 226.61,604.53" fill="#0000ff"/>
<polygon points="245.45,576.7 238.46,589.02 252.44,589.02" fill="#0000ff"/>
<polygon points="271.28,564.7 264.29,577.02 278.26,577.02" fill="#0000ff"/>
<polygon points="297.11,554.87 290.12,567.19 304.1,567.19" fill="#0000ff"/>
<polygon points="322.94,548.1 315.95,560.42 329.93,560.42" fill="#0000ff"/>
<polyline fill="none" stroke="#008080" stroke-width="1.9" stroke-linejoin="round" points="116.3,719.0 142.1,694.1 168.0,660.5 193.8,631.7 219.6,608.3 245.4,591.7 271.3,576.7 297.1,567.7 322.9,558.5"/>
<polygon points="116.3,726.61 109.31,714.29 123.28,714.29" fill="#008080"/>
<polygon points="142.13,701.71 135.14,689.39 149.12,689.39" fill="#008080"/>
<polygon points="167.96,668.09 160.97,655.77 174.94,655.77" fill="#008080"/>
<polygon points="193.79,639.27 186.8,626.95 200.78,626.95" fill="#008080"/>
<polygon points="219.62,615.9 212.63,603.58 226.61,603.58" fill="#008080"/>
<polygon points="245.45,599.31 238.46,586.99 252.44,586.99" fill="#008080"/>
<polygon points="271.28,584.24 264.29,571.92 278.26,571.92" fill="#008080"/>
<polygon points="297.11,575.29 290.12,562.97 304.1,562.97" fill="#008080"/>
<polygon points="322.94,566.12 315.95,553.8 329.93,553.8" fill="#008080"/>
<polyline fill="none" stroke="#ff00ff" stroke-width="1.9" stroke-linejoin="round" points="116.3,720.1 142.1,704.6 168.0,677.5 193.8,652.9 219.6,628.8 245.4,610.7 271.3,593.9 297.1,579.7 322.9,568.6"/>
<polygon points="108.71,720.11 121.03,713.12 121.03,727.09" fill="#ff00ff"/>
<polygon points="134.54,704.61 146.86,697.62 146.86,711.59" fill="#ff00ff"/>
<polygon points="160.37,677.53 172.69,670.55 172.69,684.52" fill="#ff00ff"/>
<polygon points="186.2,652.86 198.52,645.87 198.52,659.84" fill="#ff00ff"/>
<polygon points="212.03,628.84 224.35,621.85 224.35,635.82" fill="#ff00ff"/>
<polygon points="237.86,610.71 250.18,603.73 250.18,617.7" fill="#ff00ff"/>
<polygon points="263.69,593.9 276.01,586.92 276.01,600.89" fill="#ff00ff"/>
<polygon points="289.52,579.71 301.84,572.72 301.84,586.69" fill="#ff00ff"/>
<polygon points="315.35,568.57 327.67,561.59 327.67,575.56" fill="#ff00ff"/>
<polyline fill="none" stroke="#808000" stroke-width="1.9" stroke-linejoin="round" points="116.3,721.0 142.1,719.0 168.0,715.3 193.8,710.3 219.6,703.3 245.4,696.5 271.3,689.1 297.1,684.1 322.9,676.7"/>
<polygon points="123.89,720.98 111.57,714 111.57,727.97" fill="#808000"/>
<polygon points="149.72,719.02 137.4,712.03 137.4,726" fill="#808000"/>
<polygon points="175.55,715.3 163.23,708.32 163.23,722.29" fill="#808000"/>
<polygon points="201.38,710.28 189.06,703.3 189.06,717.27" fill="#808000"/>
<polygon points="227.21,703.3 214.89,696.31 214.89,710.28" fill="#808000"/>
<polygon points="253.04,696.53 240.72,689.54 240.72,703.51" fill="#808000"/>
<polygon points="278.87,689.1 266.55,682.12 266.55,696.09" fill="#808000"/>
<polygon points="304.7,684.08 292.38,677.1 292.38,691.07" fill="#808000"/>
<polygon points="330.53,676.66 318.21,669.67 318.21,683.64" fill="#808000"/>
<polyline fill="none" stroke="#000080" stroke-width="1.9" stroke-linejoin="round" points="116.3,719.0 142.1,703.7 168.0,682.1 193.8,661.6 219.6,644.6 245.4,629.5 271.3,616.0 297.1,604.8 322.9,595.0"/>
<polygon points="116.3,711.98 123.01,719.02 116.3,726.06 109.59,719.02" fill="#000080"/>
<polygon points="142.13,696.69 148.84,703.73 142.13,710.77 135.42,703.73" fill="#000080"/>
<polygon points="167.96,675.08 174.67,682.12 167.96,689.16 161.25,682.12" fill="#000080"/>
<polygon points="193.79,654.55 200.5,661.59 193.79,668.63 187.08,661.59" fill="#000080"/>
<polygon points="219.62,637.52 226.33,644.56 219.62,651.6 212.91,644.56" fill="#000080"/>
<polygon points="245.45,622.45 252.16,629.49 245.45,636.53 238.74,629.49" fill="#000080"/>
<polygon points="271.28,608.92 277.99,615.96 271.28,623 264.57,615.96" fill="#000080"/>
<polygon points="297.11,597.78 303.82,604.82 297.11,611.86 290.4,604.82" fill="#000080"/>
<polygon points="322.94,587.95 329.65,594.99 322.94,602.03 316.23,594.99" fill="#000080"/>
<path d="M116.30 733.00v-4.70 M116.30 524.70v4.70 M167.96 733.00v-4.70 M167.96 524.70v4.70 M219.62 733.00v-4.70 M219.62 524.70v4.70 M271.28 733.00v-4.70 M271.28 524.70v4.70 M322.94 733.00v-4.70 M322.94 524.70v4.70 M142.13 733.00v-2.90 M142.13 524.70v2.90 M193.79 733.00v-2.90 M193.79 524.70v2.90 M245.45 733.00v-2.90 M245.45 524.70v2.90 M297.11 733.00v-2.90 M297.11 524.70v2.90 M90.00 721.20h4.70 M348.80 721.20h-4.70 M90.00 677.53h4.70 M348.80 677.53h-4.70 M90.00 633.86h4.70 M348.80 633.86h-4.70 M90.00 590.19h4.70 M348.80 590.19h-4.70 M90.00 546.52h4.70 M348.80 546.52h-4.70 M90.00 699.37h2.90 M348.80 699.37h-2.90 M90.00 655.70h2.90 M348.80 655.70h-2.90 M90.00 612.03h2.90 M348.80 612.03h-2.90 M90.00 568.36h2.90 M348.80 568.36h-2.90 M348.80 536.28h-4.70 M348.80 547.87h-2.90 M348.80 559.45h-4.70 M348.80 571.03h-2.90 M348.80 582.62h-4.70 M348.80 594.20h-2.90 M348.80 605.78h-4.70 M348.80 617.37h-2.90 M348.80 628.95h-4.70 M348.80 640.53h-2.90 M348.80 652.12h-4.70 M348.80 663.70h-2.90 M348.80 675.28h-4.70 M348.80 686.87h-2.90 M348.80 698.45h-4.70 M348.80 710.03h-2.90 M348.80 721.62h-4.70" stroke="#000" stroke-width="1.8" fill="none"/>
<rect x="90.00" y="524.70" width="258.80" height="208.30" fill="none" stroke="#000" stroke-width="2.1"/>
<text x="116.0" y="755.0" text-anchor="middle" font-weight="bold" font-size="22">1</text>
<text x="167.7" y="755.0" text-anchor="middle" font-weight="bold" font-size="22">2</text>
<text x="219.3" y="755.0" text-anchor="middle" font-weight="bold" font-size="22">3</text>
<text x="271.0" y="755.0" text-anchor="middle" font-weight="bold" font-size="22">4</text>
<text x="322.6" y="755.0" text-anchor="middle" font-weight="bold" font-size="22">5</text>
<text x="85.0" y="727.2" text-anchor="end" font-weight="bold" font-size="22">0.0</text>
<text x="85.0" y="683.5" text-anchor="end" font-weight="bold" font-size="22">0.2</text>
<text x="85.0" y="639.9" text-anchor="end" font-weight="bold" font-size="22">0.4</text>
<text x="85.0" y="596.2" text-anchor="end" font-weight="bold" font-size="22">0.6</text>
<text x="85.0" y="552.5" text-anchor="end" font-weight="bold" font-size="22">0.8</text>
<text x="101.6" y="558.2" font-weight="bold" font-size="32">d</text>
<text x="260.3" y="651.6" font-size="33.2">Email</text>
<path d="M123.2 543.8H149.2" stroke="#000000" stroke-width="1.9"/>
<rect x="131.2" y="538.8" width="9.99" height="9.99" fill="#000000"/>
<text x="149.2" y="547.1" font-style="italic" font-size="10.8">k<tspan font-size="7.5" dy="4.6" dx="-0.2">S</tspan><tspan dy="-4.6" dx="0.3">=11</tspan></text>
<path d="M123.2 561.6H149.2" stroke="#ff0000" stroke-width="1.9"/>
<circle cx="136.2" cy="561.6" r="5.46" fill="#ff0000"/>
<text x="149.2" y="564.9" font-style="italic" font-size="10.8">k<tspan font-size="7.5" dy="4.6" dx="-0.2">S</tspan><tspan dy="-4.6" dx="0.3">=10</tspan></text>
<path d="M123.2 579.0H149.2" stroke="#0000ff" stroke-width="1.9"/>
<polygon points="136.2,571.89 129.66,583.43 142.74,583.43" fill="#0000ff"/>
<text x="149.2" y="582.3" font-style="italic" font-size="10.8">k<tspan font-size="7.5" dy="4.6" dx="-0.2">S</tspan><tspan dy="-4.6" dx="0.3">=9</tspan></text>
<path d="M123.2 596.3H149.2" stroke="#008080" stroke-width="1.9"/>
<polygon points="136.2,603.41 129.66,591.87 142.74,591.87" fill="#008080"/>
<text x="149.2" y="599.6" font-style="italic" font-size="10.8">k<tspan font-size="7.5" dy="4.6" dx="-0.2">S</tspan><tspan dy="-4.6" dx="0.3">=8</tspan></text>
<path d="M178.5 543.8H204.5" stroke="#ff00ff" stroke-width="1.9"/>
<polygon points="184.39,543.8 195.93,537.26 195.93,550.34" fill="#ff00ff"/>
<text x="207.1" y="547.1" font-style="italic" font-size="10.8">k<tspan font-size="7.5" dy="4.6" dx="-0.2">S</tspan><tspan dy="-4.6" dx="0.3">=6</tspan></text>
<path d="M178.5 561.6H204.5" stroke="#808000" stroke-width="1.9"/>
<polygon points="199.01,561.6 187.47,555.06 187.47,568.14" fill="#808000"/>
<text x="204.1" y="564.9" font-style="italic" font-size="10.8">k<tspan font-size="7.5" dy="4.6" dx="-0.2">S</tspan><tspan dy="-4.6" dx="0.3">=1</tspan></text>
<path d="M230.5 543.8H256.6" stroke="#000080" stroke-width="1.9"/>
<polygon points="243.6,537.21 249.88,543.8 243.6,550.39 237.32,543.8" fill="#000080"/>
<text x="259.2" y="547.1" font-style="italic" font-size="10.8">avg</text>
<polyline fill="none" stroke="#000000" stroke-width="1.9" stroke-linejoin="round" points="456.1,718.5 481.9,704.2 507.8,667.7 533.6,635.2 559.4,610.5 585.2,589.6 611.1,574.0 636.9,559.7 662.7,546.7"/>
<rect x="450.86" y="713.26" width="10.48" height="10.48" fill="#000000"/>
<rect x="476.69" y="698.94" width="10.48" height="10.48" fill="#000000"/>
<rect x="502.52" y="662.49" width="10.48" height="10.48" fill="#000000"/>
<rect x="528.35" y="629.95" width="10.48" height="10.48" fill="#000000"/>
<rect x="554.18" y="605.21" width="10.48" height="10.48" fill="#000000"/>
<rect x="580.01" y="584.39" width="10.48" height="10.48" fill="#000000"/>
<rect x="605.84" y="568.77" width="10.48" height="10.48" fill="#000000"/>
<rect x="631.67" y="554.45" width="10.48" height="10.48" fill="#000000"/>
<rect x="657.5" y="541.43" width="10.48" height="10.48" fill="#000000"/>
<polyline fill="none" stroke="#ff0000" stroke-width="1.9" stroke-linejoin="round" points="456.1,719.8 481.9,716.7 507.8,708.1 533.6,693.8 559.4,676.8 585.2,659.9 611.1,640.4 636.9,624.8 662.7,610.5"/>
<circle cx="456.1" cy="719.8" r="5.72" fill="#ff0000"/>
<circle cx="481.93" cy="716.68" r="5.72" fill="#ff0000"/>
<circle cx="507.76" cy="708.08" r="5.72" fill="#ff0000"/>
<circle cx="533.59" cy="693.76" r="5.72" fill="#ff0000"/>
<circle cx="559.42" cy="676.84" r="5.72" fill="#ff0000"/>
<circle cx="585.25" cy="659.92" r="5.72" fill="#ff0000"/>
<circle cx="611.08" cy="640.39" r="5.72" fill="#ff0000"/>
<circle cx="636.91" cy="624.77" r="5.72" fill="#ff0000"/>
<circle cx="662.74" cy="610.45" r="5.72" fill="#ff0000"/>
<polyline fill="none" stroke="#0000ff" stroke-width="1.9" stroke-linejoin="round" points="456.1,719.8 481.9,712.0 507.8,678.1 533.6,639.9 559.4,611.8 585.2,589.9 611.1,574.8 636.9,558.9 662.7,546.1"/>
<polygon points="456.1,712.35 449.24,724.44 462.96,724.44" fill="#0000ff"/>
<polygon points="481.93,704.54 475.07,716.63 488.79,716.63" fill="#0000ff"/>
<polygon points="507.76,670.69 500.9,682.79 514.62,682.79" fill="#0000ff"/>
<polygon points="533.59,632.42 526.73,644.52 540.45,644.52" fill="#0000ff"/>
<polygon points="559.42,604.3 552.56,616.4 566.28,616.4" fill="#0000ff"/>
<polygon points="585.25,582.43 578.39,594.53 592.11,594.53" fill="#0000ff"/>
<polygon points="611.08,567.33 604.22,579.43 617.94,579.43" fill="#0000ff"/>
<polygon points="636.91,551.45 630.05,563.55 643.77,563.55" fill="#0000ff"/>
<polygon points="662.74,538.69 655.88,550.79 669.6,550.79" fill="#0000ff"/>
<polyline fill="none" stroke="#008080" stroke-width="1.9" stroke-linejoin="round" points="456.1,718.5 481.9,702.4 507.8,669.0 533.6,635.2 559.4,610.5 585.2,589.9 611.1,575.3 636.9,559.7 662.7,546.9"/>
<polygon points="456.1,725.95 449.24,713.85 462.96,713.85" fill="#008080"/>
<polygon points="481.93,709.81 475.07,697.71 488.79,697.71" fill="#008080"/>
<polygon points="507.76,676.48 500.9,664.39 514.62,664.39" fill="#008080"/>
<polygon points="533.59,642.64 526.73,630.54 540.45,630.54" fill="#008080"/>
<polygon points="559.42,617.9 552.56,605.81 566.28,605.81" fill="#008080"/>
<polygon points="585.25,597.34 578.39,585.24 592.11,585.24" fill="#008080"/>
<polygon points="611.08,582.76 604.22,570.66 617.94,570.66" fill="#008080"/>
<polygon points="636.91,567.14 630.05,555.04 643.77,555.04" fill="#008080"/>
<polygon points="662.74,554.38 655.88,542.28 669.6,542.28" fill="#008080"/>
<polyline fill="none" stroke="#ff00ff" stroke-width="1.9" stroke-linejoin="round" points="456.1,716.2 481.9,691.2 507.8,662.5 533.6,635.2 559.4,611.8 585.2,592.0 611.1,576.3 636.9,559.7 662.7,548.0"/>
<polygon points="448.65,716.16 460.74,709.3 460.74,723.01" fill="#ff00ff"/>
<polygon points="474.48,691.16 486.57,684.3 486.57,698.02" fill="#ff00ff"/>
<polygon points="500.31,662.52 512.4,655.66 512.4,669.38" fill="#ff00ff"/>
<polygon points="526.14,635.19 538.23,628.33 538.23,642.04" fill="#ff00ff"/>
<polygon points="551.97,611.75 564.06,604.9 564.06,618.61" fill="#ff00ff"/>
<polygon points="577.8,591.97 589.89,585.11 589.89,598.83" fill="#ff00ff"/>
<polygon points="603.63,576.35 615.72,569.49 615.72,583.21" fill="#ff00ff"/>
<polygon points="629.46,559.68 641.55,552.83 641.55,566.54" fill="#ff00ff"/>
<polygon points="655.29,547.97 667.38,541.11 667.38,554.83" fill="#ff00ff"/>
<polyline fill="none" stroke="#808000" stroke-width="1.9" stroke-linejoin="round" points="456.1,718.5 481.9,703.1 507.8,677.6 533.6,649.8 559.4,623.7 585.2,600.6 611.1,581.6 636.9,565.7 662.7,550.6"/>
<polygon points="463.55,718.5 451.46,711.64 451.46,725.36" fill="#808000"/>
<polygon points="489.38,703.14 477.29,696.28 477.29,710" fill="#808000"/>
<polygon points="515.21,677.62 503.12,670.77 503.12,684.48" fill="#808000"/>
<polygon points="541.04,649.77 528.95,642.91 528.95,656.62" fill="#808000"/>
<polygon points="566.87,623.73 554.78,616.87 554.78,630.59" fill="#808000"/>
<polygon points="592.7,600.56 580.61,593.7 580.61,607.42" fill="#808000"/>
<polygon points="618.53,581.55 606.44,574.7 606.44,588.41" fill="#808000"/>
<polygon points="644.36,565.67 632.27,558.81 632.27,572.53" fill="#808000"/>
<polygon points="670.19,550.57 658.1,543.71 658.1,557.43" fill="#808000"/>
<polyline fill="none" stroke="#000080" stroke-width="1.9" stroke-linejoin="round" points="456.1,719.8 481.9,717.5 507.8,709.9 533.6,696.4 559.4,679.7 585.2,661.0 611.1,640.7 636.9,620.1 662.7,601.1"/>
<polygon points="456.1,712.89 462.69,719.8 456.1,726.71 449.51,719.8" fill="#000080"/>
<polygon points="481.93,710.54 488.52,717.46 481.93,724.37 475.34,717.46" fill="#000080"/>
<polygon points="507.76,702.99 514.35,709.91 507.76,716.82 501.17,709.91" fill="#000080"/>
<polygon points="533.59,689.46 540.18,696.37 533.59,703.28 527,696.37" fill="#000080"/>
<polygon points="559.42,672.79 566.01,679.71 559.42,686.62 552.83,679.71" fill="#000080"/>
<polygon points="585.25,654.05 591.84,660.96 585.25,667.87 578.66,660.96" fill="#000080"/>
<polygon points="611.08,633.74 617.67,640.65 611.08,647.57 604.49,640.65" fill="#000080"/>
<polygon points="636.91,613.17 643.5,620.09 636.91,627 630.32,620.09" fill="#000080"/>
<polygon points="662.74,594.17 669.33,601.08 662.74,607.99 656.15,601.08" fill="#000080"/>
<polyline fill="none" stroke="#800000" stroke-width="1.9" stroke-linejoin="round" points="456.1,719.3 481.9,713.8 507.8,703.9 533.6,689.1 559.4,672.2 585.2,655.8 611.1,638.8 636.9,620.9 662.7,605.0"/>
<polygon points="456.1,712.75 462.73,717.56 460.19,725.35 452.01,725.35 449.47,717.56" fill="#800000"/>
<polygon points="481.93,707.28 488.56,712.09 486.02,719.88 477.84,719.88 475.3,712.09" fill="#800000"/>
<polygon points="507.76,697.38 514.39,702.2 511.85,709.99 503.67,709.99 501.13,702.2" fill="#800000"/>
<polygon points="533.59,682.54 540.22,687.36 537.68,695.15 529.5,695.15 526.96,687.36" fill="#800000"/>
<polygon points="559.42,665.62 566.05,670.44 563.51,678.22 555.33,678.22 552.79,670.44" fill="#800000"/>
<polygon points="585.25,649.22 591.88,654.03 589.34,661.82 581.16,661.82 578.62,654.03" fill="#800000"/>
<polygon points="611.08,632.3 617.71,637.11 615.17,644.9 606.99,644.9 604.45,637.11" fill="#800000"/>
<polygon points="636.91,614.33 643.54,619.15 641,626.93 632.82,626.93 630.28,619.15" fill="#800000"/>
<polygon points="662.74,598.45 669.37,603.27 666.83,611.05 658.65,611.05 656.11,603.27" fill="#800000"/>
<path d="M456.10 732.80v-4.70 M456.10 524.70v4.70 M507.76 732.80v-4.70 M507.76 524.70v4.70 M559.42 732.80v-4.70 M559.42 524.70v4.70 M611.08 732.80v-4.70 M611.08 524.70v4.70 M662.74 732.80v-4.70 M662.74 524.70v4.70 M481.93 732.80v-2.90 M481.93 524.70v2.90 M533.59 732.80v-2.90 M533.59 524.70v2.90 M585.25 732.80v-2.90 M585.25 524.70v2.90 M636.91 732.80v-2.90 M636.91 524.70v2.90 M430.00 719.80h4.70 M688.80 719.80h-4.70 M430.00 667.73h4.70 M688.80 667.73h-4.70 M430.00 615.66h4.70 M688.80 615.66h-4.70 M430.00 563.59h4.70 M688.80 563.59h-4.70 M430.00 693.76h2.90 M688.80 693.76h-2.90 M430.00 641.69h2.90 M688.80 641.69h-2.90 M430.00 589.62h2.90 M688.80 589.62h-2.90 M430.00 537.55h2.90 M688.80 537.55h-2.90" stroke="#000" stroke-width="1.8" fill="none"/>
<rect x="430.00" y="524.70" width="258.80" height="208.10" fill="none" stroke="#000" stroke-width="2.1"/>
<text x="455.8" y="754.8" text-anchor="middle" font-weight="bold" font-size="22">1</text>
<text x="507.5" y="754.8" text-anchor="middle" font-weight="bold" font-size="22">2</text>
<text x="559.1" y="754.8" text-anchor="middle" font-weight="bold" font-size="22">3</text>
<text x="610.8" y="754.8" text-anchor="middle" font-weight="bold" font-size="22">4</text>
<text x="662.4" y="754.8" text-anchor="middle" font-weight="bold" font-size="22">5</text>
<text x="425.0" y="725.8" text-anchor="end" font-weight="bold" font-size="22">0.0</text>
<text x="425.0" y="673.7" text-anchor="end" font-weight="bold" font-size="22">0.2</text>
<text x="425.0" y="621.7" text-anchor="end" font-weight="bold" font-size="22">0.4</text>
<text x="425.0" y="569.6" text-anchor="end" font-weight="bold" font-size="22">0.6</text>
<text x="441.0" y="558.0" font-weight="bold" font-size="32">e</text>
<text x="563.2" y="709.3" font-size="33.2">CA-Hep</text>
<path d="M459.5 541.4H485.6" stroke="#000000" stroke-width="1.9"/>
<rect x="467.6" y="536.4" width="9.99" height="9.99" fill="#000000"/>
<text x="488.8" y="544.7" font-style="italic" font-size="10.8">k<tspan font-size="7.5" dy="4.6" dx="-0.2">S</tspan><tspan dy="-4.6" dx="0.3">=31</tspan></text>
<path d="M459.5 559.0H485.6" stroke="#ff0000" stroke-width="1.9"/>
<circle cx="472.6" cy="559" r="5.46" fill="#ff0000"/>
<text x="488.8" y="562.3" font-style="italic" font-size="10.8">k<tspan font-size="7.5" dy="4.6" dx="-0.2">S</tspan><tspan dy="-4.6" dx="0.3">=23</tspan></text>
<path d="M459.5 576.8H485.6" stroke="#0000ff" stroke-width="1.9"/>
<polygon points="472.6,569.69 466.06,581.23 479.14,581.23" fill="#0000ff"/>
<text x="486.2" y="580.1" font-style="italic" font-size="10.8">k<tspan font-size="7.5" dy="4.6" dx="-0.2">S</tspan><tspan dy="-4.6" dx="0.3">=20</tspan></text>
<path d="M459.5 594.1H485.6" stroke="#008080" stroke-width="1.9"/>
<polygon points="472.6,601.21 466.06,589.67 479.14,589.67" fill="#008080"/>
<text x="488.8" y="597.4" font-style="italic" font-size="10.8">k<tspan font-size="7.5" dy="4.6" dx="-0.2">S</tspan><tspan dy="-4.6" dx="0.3">=18</tspan></text>
<path d="M459.5 611.5H485.6" stroke="#ff00ff" stroke-width="1.9"/>
<polygon points="465.49,611.5 477.03,604.96 477.03,618.04" fill="#ff00ff"/>
<text x="488.8" y="614.8" font-style="italic" font-size="10.8">k<tspan font-size="7.5" dy="4.6" dx="-0.2">S</tspan><tspan dy="-4.6" dx="0.3">=9</tspan></text>
<path d="M517.7 541.4H543.7" stroke="#808000" stroke-width="1.9"/>
<polygon points="537.81,541.4 526.27,534.86 526.27,547.94" fill="#808000"/>
<text x="546.3" y="544.7" font-style="italic" font-size="10.8">k<tspan font-size="7.5" dy="4.6" dx="-0.2">S</tspan><tspan dy="-4.6" dx="0.3">=6</tspan></text>
<path d="M517.7 559.0H543.7" stroke="#000080" stroke-width="1.9"/>
<polygon points="530.7,552.41 536.98,559 530.7,565.59 524.42,559" fill="#000080"/>
<text x="543.3" y="562.3" font-style="italic" font-size="10.8">k<tspan font-size="7.5" dy="4.6" dx="-0.2">S</tspan><tspan dy="-4.6" dx="0.3">=3</tspan></text>
<path d="M512.2 576.8H538.3" stroke="#800000" stroke-width="1.9"/>
<polygon points="525.3,570.57 531.62,575.16 529.2,582.59 521.4,582.59 518.98,575.16" fill="#800000"/>
<text x="537.8" y="580.1" font-style="italic" font-size="10.8">avg</text>
<polyline fill="none" stroke="#000000" stroke-width="1.9" stroke-linejoin="round" points="799.6,715.1 825.4,712.3 851.3,708.2 877.1,715.1 902.9,715.1 928.8,715.1 954.6,715.1 980.4,715.1 1006.2,715.1"/>
<rect x="794.56" y="710.06" width="10.09" height="10.09" fill="#000000"/>
<rect x="820.39" y="707.29" width="10.09" height="10.09" fill="#000000"/>
<rect x="846.22" y="703.15" width="10.09" height="10.09" fill="#000000"/>
<rect x="872.05" y="710.06" width="10.09" height="10.09" fill="#000000"/>
<rect x="897.88" y="710.06" width="10.09" height="10.09" fill="#000000"/>
<rect x="923.71" y="710.06" width="10.09" height="10.09" fill="#000000"/>
<rect x="949.54" y="710.06" width="10.09" height="10.09" fill="#000000"/>
<rect x="975.37" y="710.06" width="10.09" height="10.09" fill="#000000"/>
<rect x="1001.2" y="710.06" width="10.09" height="10.09" fill="#000000"/>
<polyline fill="none" stroke="#ff0000" stroke-width="1.9" stroke-linejoin="round" points="799.6,715.1 825.4,695.1 851.3,673.7 877.1,715.1 902.9,715.1 928.8,715.1 954.6,715.1 980.4,715.1 1006.2,715.1"/>
<circle cx="799.6" cy="715.1" r="7.17" fill="#ff0000"/>
<circle cx="825.43" cy="695.07" r="7.17" fill="#ff0000"/>
<circle cx="851.26" cy="673.65" r="7.17" fill="#ff0000"/>
<circle cx="877.09" cy="715.1" r="7.17" fill="#ff0000"/>
<circle cx="902.92" cy="715.1" r="7.17" fill="#ff0000"/>
<circle cx="928.75" cy="715.1" r="7.17" fill="#ff0000"/>
<circle cx="954.58" cy="715.1" r="7.17" fill="#ff0000"/>
<circle cx="980.41" cy="715.1" r="7.17" fill="#ff0000"/>
<circle cx="1006.24" cy="715.1" r="7.17" fill="#ff0000"/>
<polyline fill="none" stroke="#0000ff" stroke-width="1.9" stroke-linejoin="round" points="799.6,715.1 825.4,707.8 851.3,697.8 877.1,715.1 902.9,715.1 928.8,715.1 954.6,715.1 980.4,715.1 1006.2,715.1"/>
<polygon points="799.6,706.13 791.35,720.69 807.86,720.69" fill="#0000ff"/>
<polygon points="825.43,698.88 817.18,713.44 833.69,713.44" fill="#0000ff"/>
<polygon points="851.26,688.86 843,703.42 859.51,703.42" fill="#0000ff"/>
<polygon points="877.09,706.13 868.84,720.69 885.35,720.69" fill="#0000ff"/>
<polygon points="902.92,706.13 894.67,720.69 911.18,720.69" fill="#0000ff"/>
<polygon points="928.75,706.13 920.5,720.69 937,720.69" fill="#0000ff"/>
<polygon points="954.58,706.13 946.33,720.69 962.84,720.69" fill="#0000ff"/>
<polygon points="980.41,706.13 972.16,720.69 988.67,720.69" fill="#0000ff"/>
<polygon points="1006.24,706.13 997.99,720.69 1014.5,720.69" fill="#0000ff"/>
<polyline fill="none" stroke="#008080" stroke-width="1.9" stroke-linejoin="round" points="799.6,714.8 825.4,705.8 851.3,694.4 877.1,715.1 902.9,715.1 928.8,715.1 954.6,715.1 980.4,715.1 1006.2,715.1"/>
<polygon points="799.6,723.72 791.35,709.16 807.86,709.16" fill="#008080"/>
<polygon points="825.43,714.74 817.18,700.18 833.69,700.18" fill="#008080"/>
<polygon points="851.26,703.35 843,688.79 859.51,688.79" fill="#008080"/>
<polygon points="877.09,724.07 868.84,709.51 885.35,709.51" fill="#008080"/>
<polygon points="902.92,724.07 894.67,709.51 911.18,709.51" fill="#008080"/>
<polygon points="928.75,724.07 920.5,709.51 937,709.51" fill="#008080"/>
<polygon points="954.58,724.07 946.33,709.51 962.84,709.51" fill="#008080"/>
<polygon points="980.41,724.07 972.16,709.51 988.67,709.51" fill="#008080"/>
<polygon points="1006.24,724.07 997.99,709.51 1014.5,709.51" fill="#008080"/>
<polyline fill="none" stroke="#ff00ff" stroke-width="1.9" stroke-linejoin="round" points="799.6,715.1 825.4,708.2 851.3,697.8 877.1,715.1 902.9,715.1 928.8,715.1 954.6,715.1 980.4,715.1 1006.2,715.1"/>
<polygon points="790.63,715.1 805.19,706.85 805.19,723.36" fill="#ff00ff"/>
<polygon points="816.46,708.19 831.02,699.94 831.02,716.45" fill="#ff00ff"/>
<polygon points="842.29,697.83 856.85,689.58 856.85,706.09" fill="#ff00ff"/>
<polygon points="868.12,715.1 882.68,706.85 882.68,723.36" fill="#ff00ff"/>
<polygon points="893.95,715.1 908.51,706.85 908.51,723.36" fill="#ff00ff"/>
<polygon points="919.78,715.1 934.34,706.85 934.34,723.36" fill="#ff00ff"/>
<polygon points="945.61,715.1 960.17,706.85 960.17,723.36" fill="#ff00ff"/>
<polygon points="971.44,715.1 986,706.85 986,723.36" fill="#ff00ff"/>
<polygon points="997.27,715.1 1011.83,706.85 1011.83,723.36" fill="#ff00ff"/>
<polyline fill="none" stroke="#808000" stroke-width="1.9" stroke-linejoin="round" points="799.6,714.8 825.4,711.0 851.3,704.7 877.1,715.1 902.9,715.1 928.8,715.1 954.6,715.1 980.4,715.1 1006.2,715.1"/>
<polygon points="808.57,714.75 794.01,706.5 794.01,723.01" fill="#808000"/>
<polygon points="834.4,710.96 819.84,702.7 819.84,719.21" fill="#808000"/>
<polygon points="860.23,704.74 845.67,696.48 845.67,712.99" fill="#808000"/>
<polygon points="886.06,715.1 871.5,706.85 871.5,723.36" fill="#808000"/>
<polygon points="911.89,715.1 897.33,706.85 897.33,723.36" fill="#808000"/>
<polygon points="937.72,715.1 923.16,706.85 923.16,723.36" fill="#808000"/>
<polygon points="963.55,715.1 948.99,706.85 948.99,723.36" fill="#808000"/>
<polygon points="989.38,715.1 974.82,706.85 974.82,723.36" fill="#808000"/>
<polygon points="1015.21,715.1 1000.65,706.85 1000.65,723.36" fill="#808000"/>
<polyline fill="none" stroke="#000080" stroke-width="1.9" stroke-linejoin="round" points="799.6,715.1 825.4,715.1 851.3,715.1 877.1,715.1 902.9,715.1 928.8,715.1 954.6,715.1 980.4,715.1 1006.2,715.1"/>
<polygon points="799.6,706.78 807.53,715.1 799.6,723.42 791.67,715.1" fill="#000080"/>
<polygon points="825.43,706.78 833.36,715.1 825.43,723.42 817.5,715.1" fill="#000080"/>
<polygon points="851.26,706.78 859.19,715.1 851.26,723.42 843.33,715.1" fill="#000080"/>
<polygon points="877.09,706.78 885.02,715.1 877.09,723.42 869.16,715.1" fill="#000080"/>
<polygon points="902.92,706.78 910.85,715.1 902.92,723.42 894.99,715.1" fill="#000080"/>
<polygon points="928.75,706.78 936.68,715.1 928.75,723.42 920.82,715.1" fill="#000080"/>
<polygon points="954.58,706.78 962.51,715.1 954.58,723.42 946.65,715.1" fill="#000080"/>
<polygon points="980.41,706.78 988.34,715.1 980.41,723.42 972.48,715.1" fill="#000080"/>
<polygon points="1006.24,706.78 1014.17,715.1 1006.24,723.42 998.31,715.1" fill="#000080"/>
<polyline fill="none" stroke="#800000" stroke-width="1.9" stroke-linejoin="round" points="799.6,715.1 825.4,711.6 851.3,706.5 877.1,715.1 902.9,715.1 928.8,715.1 954.6,715.1 980.4,715.1 1006.2,715.1"/>
<polygon points="799.6,707.39 807.42,713.07 804.43,722.26 794.77,722.26 791.78,713.07" fill="#800000"/>
<polygon points="825.43,703.94 833.25,709.62 830.26,718.8 820.6,718.8 817.61,709.62" fill="#800000"/>
<polygon points="851.26,698.76 859.08,704.44 856.09,713.62 846.43,713.62 843.44,704.44" fill="#800000"/>
<polygon points="877.09,707.39 884.91,713.07 881.92,722.26 872.26,722.26 869.27,713.07" fill="#800000"/>
<polygon points="902.92,707.39 910.74,713.07 907.75,722.26 898.09,722.26 895.1,713.07" fill="#800000"/>
<polygon points="928.75,707.39 936.57,713.07 933.58,722.26 923.92,722.26 920.93,713.07" fill="#800000"/>
<polygon points="954.58,707.39 962.4,713.07 959.41,722.26 949.75,722.26 946.76,713.07" fill="#800000"/>
<polygon points="980.41,707.39 988.23,713.07 985.24,722.26 975.58,722.26 972.59,713.07" fill="#800000"/>
<polygon points="1006.24,707.39 1014.06,713.07 1011.07,722.26 1001.41,722.26 998.42,713.07" fill="#800000"/>
<path d="M799.60 733.00v-4.70 M799.60 524.70v4.70 M851.26 733.00v-4.70 M851.26 524.70v4.70 M902.92 733.00v-4.70 M902.92 524.70v4.70 M954.58 733.00v-4.70 M954.58 524.70v4.70 M1006.24 733.00v-4.70 M1006.24 524.70v4.70 M825.43 733.00v-2.90 M825.43 524.70v2.90 M877.09 733.00v-2.90 M877.09 524.70v2.90 M928.75 733.00v-2.90 M928.75 524.70v2.90 M980.41 733.00v-2.90 M980.41 524.70v2.90 M774.00 715.10h4.70 M1033.00 715.10h-4.70 M774.00 680.56h4.70 M1033.00 680.56h-4.70 M774.00 646.02h4.70 M1033.00 646.02h-4.70 M774.00 611.48h4.70 M1033.00 611.48h-4.70 M774.00 576.94h4.70 M1033.00 576.94h-4.70 M774.00 542.40h4.70 M1033.00 542.40h-4.70 M774.00 697.83h2.90 M1033.00 697.83h-2.90 M774.00 663.29h2.90 M1033.00 663.29h-2.90 M774.00 628.75h2.90 M1033.00 628.75h-2.90 M774.00 594.21h2.90 M1033.00 594.21h-2.90 M774.00 559.67h2.90 M1033.00 559.67h-2.90" stroke="#000" stroke-width="1.8" fill="none"/>
<rect x="774.00" y="524.70" width="259.00" height="208.30" fill="none" stroke="#000" stroke-width="2.1"/>
<text x="799.3" y="755.0" text-anchor="middle" font-weight="bold" font-size="22">1</text>
<text x="851.0" y="755.0" text-anchor="middle" font-weight="bold" font-size="22">2</text>
<text x="902.6" y="755.0" text-anchor="middle" font-weight="bold" font-size="22">3</text>
<text x="954.3" y="755.0" text-anchor="middle" font-weight="bold" font-size="22">4</text>
<text x="1005.9" y="755.0" text-anchor="middle" font-weight="bold" font-size="22">5</text>
<text x="769.0" y="721.1" text-anchor="end" font-weight="bold" font-size="22">0.0</text>
<text x="769.0" y="686.6" text-anchor="end" font-weight="bold" font-size="22">0.1</text>
<text x="769.0" y="652.0" text-anchor="end" font-weight="bold" font-size="22">0.2</text>
<text x="769.0" y="617.5" text-anchor="end" font-weight="bold" font-size="22">0.3</text>
<text x="769.0" y="582.9" text-anchor="end" font-weight="bold" font-size="22">0.4</text>
<text x="769.0" y="548.4" text-anchor="end" font-weight="bold" font-size="22">0.5</text>
<text x="781.5" y="557.8" font-weight="bold" font-size="32">f</text>
<path d="M798.2 546.5H824.2" stroke="#000000" stroke-width="1.9"/>
<rect x="806.2" y="541.5" width="9.99" height="9.99" fill="#000000"/>
<text x="824.2" y="549.8" font-style="italic" font-size="10.8">k<tspan font-size="7.5" dy="4.6" dx="-0.2">S</tspan><tspan dy="-4.6" dx="0.3">=23</tspan></text>
<path d="M798.2 563.8H824.2" stroke="#ff0000" stroke-width="1.9"/>
<circle cx="811.2" cy="563.8" r="5.46" fill="#ff0000"/>
<text x="824.2" y="567.1" font-style="italic" font-size="10.8">k<tspan font-size="7.5" dy="4.6" dx="-0.2">S</tspan><tspan dy="-4.6" dx="0.3">=20</tspan></text>
<path d="M798.2 581.4H824.2" stroke="#0000ff" stroke-width="1.9"/>
<polygon points="811.2,574.29 804.66,585.83 817.74,585.83" fill="#0000ff"/>
<text x="824.2" y="584.7" font-style="italic" font-size="10.8">k<tspan font-size="7.5" dy="4.6" dx="-0.2">S</tspan><tspan dy="-4.6" dx="0.3">=15</tspan></text>
<path d="M798.2 598.8H824.2" stroke="#008080" stroke-width="1.9"/>
<polygon points="811.2,605.91 804.66,594.37 817.74,594.37" fill="#008080"/>
<text x="824.2" y="602.1" font-style="italic" font-size="10.8">k<tspan font-size="7.5" dy="4.6" dx="-0.2">S</tspan><tspan dy="-4.6" dx="0.3">=14</tspan></text>
<path d="M798.2 616.1H824.2" stroke="#ff00ff" stroke-width="1.9"/>
<polygon points="804.09,616.1 815.63,609.56 815.63,622.64" fill="#ff00ff"/>
<text x="824.2" y="619.4" font-style="italic" font-size="10.8">k<tspan font-size="7.5" dy="4.6" dx="-0.2">S</tspan><tspan dy="-4.6" dx="0.3">=14</tspan></text>
<polyline fill="none" stroke="#000000" stroke-width="1.9" stroke-linejoin="round" points="116.3,964.3 142.1,942.3 168.0,922.2 193.8,903.2 219.6,883.1 245.4,863.5 271.3,843.9 297.1,824.4 322.9,803.9"/>
<rect x="110.38" y="958.36" width="11.83" height="11.83" fill="#000000"/>
<rect x="136.21" y="936.43" width="11.83" height="11.83" fill="#000000"/>
<rect x="162.04" y="916.27" width="11.83" height="11.83" fill="#000000"/>
<rect x="187.87" y="897.3" width="11.83" height="11.83" fill="#000000"/>
<rect x="213.7" y="877.15" width="11.83" height="11.83" fill="#000000"/>
<rect x="239.53" y="857.59" width="11.83" height="11.83" fill="#000000"/>
<rect x="265.36" y="838.02" width="11.83" height="11.83" fill="#000000"/>
<rect x="291.19" y="818.46" width="11.83" height="11.83" fill="#000000"/>
<rect x="317.02" y="798.01" width="11.83" height="11.83" fill="#000000"/>
<polyline fill="none" stroke="#ff0000" stroke-width="1.9" stroke-linejoin="round" points="116.3,979.1 142.1,977.3 168.0,970.2 193.8,954.8 219.6,939.4 245.4,923.4 271.3,905.6 297.1,884.3 322.9,863.5"/>
<circle cx="116.3" cy="979.1" r="6.47" fill="#ff0000"/>
<circle cx="142.13" cy="977.32" r="6.47" fill="#ff0000"/>
<circle cx="167.96" cy="970.21" r="6.47" fill="#ff0000"/>
<circle cx="193.79" cy="954.8" r="6.47" fill="#ff0000"/>
<circle cx="219.62" cy="939.38" r="6.47" fill="#ff0000"/>
<circle cx="245.45" cy="923.38" r="6.47" fill="#ff0000"/>
<circle cx="271.28" cy="905.59" r="6.47" fill="#ff0000"/>
<circle cx="297.11" cy="884.25" r="6.47" fill="#ff0000"/>
<circle cx="322.94" cy="863.5" r="6.47" fill="#ff0000"/>
<polyline fill="none" stroke="#0000ff" stroke-width="1.9" stroke-linejoin="round" points="116.3,979.1 142.1,974.4 168.0,962.5 193.8,938.8 219.6,916.3 245.4,889.6 271.3,862.3 297.1,835.0 322.9,814.3"/>
<polygon points="116.3,970.68 108.55,984.35 124.05,984.35" fill="#0000ff"/>
<polygon points="142.13,965.94 134.38,979.6 149.88,979.6" fill="#0000ff"/>
<polygon points="167.96,954.08 160.21,967.75 175.71,967.75" fill="#0000ff"/>
<polygon points="193.79,930.37 186.04,944.04 201.54,944.04" fill="#0000ff"/>
<polygon points="219.62,907.85 211.87,921.51 227.37,921.51" fill="#0000ff"/>
<polygon points="245.45,881.17 237.7,894.83 253.2,894.83" fill="#0000ff"/>
<polygon points="271.28,853.9 263.53,867.56 279.03,867.56" fill="#0000ff"/>
<polygon points="297.11,826.63 289.36,840.3 304.86,840.3" fill="#0000ff"/>
<polygon points="322.94,805.88 315.19,819.55 330.69,819.55" fill="#0000ff"/>
<polyline fill="none" stroke="#008080" stroke-width="1.9" stroke-linejoin="round" points="116.3,977.9 142.1,968.4 168.0,956.0 193.8,940.0 219.6,929.6 245.4,916.3 271.3,900.9 297.1,886.0 322.9,868.0"/>
<polygon points="116.3,986.33 108.55,972.67 124.05,972.67" fill="#008080"/>
<polygon points="142.13,976.85 134.38,963.18 149.88,963.18" fill="#008080"/>
<polygon points="167.96,964.4 160.21,950.73 175.71,950.73" fill="#008080"/>
<polygon points="193.79,948.39 186.04,934.73 201.54,934.73" fill="#008080"/>
<polygon points="219.62,938.02 211.87,924.36 227.37,924.36" fill="#008080"/>
<polygon points="245.45,924.68 237.7,911.02 253.2,911.02" fill="#008080"/>
<polygon points="271.28,909.27 263.53,895.6 279.03,895.6" fill="#008080"/>
<polygon points="297.11,894.45 289.36,880.78 304.86,880.78" fill="#008080"/>
<polygon points="322.94,876.37 315.19,862.7 330.69,862.7" fill="#008080"/>
<polyline fill="none" stroke="#ff00ff" stroke-width="1.9" stroke-linejoin="round" points="116.3,975.5 142.1,965.5 168.0,944.1 193.8,922.2 219.6,900.9 245.4,878.9 271.3,857.6 297.1,835.0 322.9,813.7"/>
<polygon points="107.88,975.54 121.55,967.8 121.55,983.29" fill="#ff00ff"/>
<polygon points="133.71,965.47 147.38,957.72 147.38,973.21" fill="#ff00ff"/>
<polygon points="159.54,944.12 173.21,936.38 173.21,951.87" fill="#ff00ff"/>
<polygon points="185.37,922.19 199.04,914.44 199.04,929.94" fill="#ff00ff"/>
<polygon points="211.2,900.85 224.87,893.1 224.87,908.6" fill="#ff00ff"/>
<polygon points="237.03,878.92 250.7,871.17 250.7,886.66" fill="#ff00ff"/>
<polygon points="262.86,857.58 276.53,849.83 276.53,865.32" fill="#ff00ff"/>
<polygon points="288.69,835.05 302.36,827.3 302.36,842.8" fill="#ff00ff"/>
<polygon points="314.52,813.71 328.19,805.96 328.19,821.46" fill="#ff00ff"/>
<polyline fill="none" stroke="#808000" stroke-width="1.9" stroke-linejoin="round" points="116.3,973.2 142.1,958.4 168.0,935.8 193.8,913.9 219.6,891.4 245.4,869.4 271.3,848.7 297.1,827.3 322.9,807.2"/>
<polygon points="124.72,973.17 111.05,965.43 111.05,980.92" fill="#808000"/>
<polygon points="150.55,958.35 136.88,950.61 136.88,966.1" fill="#808000"/>
<polygon points="176.38,935.83 162.71,928.08 162.71,943.57" fill="#808000"/>
<polygon points="202.21,913.89 188.54,906.15 188.54,921.64" fill="#808000"/>
<polygon points="228.04,891.37 214.37,883.62 214.37,899.11" fill="#808000"/>
<polygon points="253.87,869.43 240.2,861.69 240.2,877.18" fill="#808000"/>
<polygon points="279.7,848.68 266.03,840.94 266.03,856.43" fill="#808000"/>
<polygon points="305.53,827.34 291.86,819.6 291.86,835.09" fill="#808000"/>
<polygon points="331.36,807.19 317.69,799.44 317.69,814.94" fill="#808000"/>
<polyline fill="none" stroke="#000080" stroke-width="1.9" stroke-linejoin="round" points="116.3,979.1 142.1,979.1 168.0,977.9 193.8,975.5 219.6,971.7 245.4,966.7 271.3,959.5 297.1,950.1 322.9,940.3"/>
<polygon points="116.3,971.29 123.74,979.1 116.3,986.91 108.86,979.1" fill="#000080"/>
<polygon points="142.13,971.29 149.57,979.1 142.13,986.91 134.69,979.1" fill="#000080"/>
<polygon points="167.96,970.11 175.4,977.91 167.96,985.72 160.52,977.91" fill="#000080"/>
<polygon points="193.79,967.74 201.23,975.54 193.79,983.35 186.35,975.54" fill="#000080"/>
<polygon points="219.62,963.88 227.06,971.69 219.62,979.5 212.18,971.69" fill="#000080"/>
<polygon points="245.45,958.84 252.89,966.65 245.45,974.46 238.01,966.65" fill="#000080"/>
<polygon points="271.28,951.73 278.72,959.54 271.28,967.35 263.84,959.54" fill="#000080"/>
<polygon points="297.11,942.24 304.55,950.05 297.11,957.86 289.67,950.05" fill="#000080"/>
<polygon points="322.94,932.46 330.38,940.27 322.94,948.08 315.5,940.27" fill="#000080"/>
<polyline fill="none" stroke="#800000" stroke-width="1.9" stroke-linejoin="round" points="116.3,978.5 142.1,977.3 168.0,973.2 193.8,969.3 219.6,963.1 245.4,956.6 271.3,948.3 297.1,938.2 322.9,926.6"/>
<polygon points="116.3,971.13 123.78,976.56 120.93,985.36 111.67,985.36 108.82,976.56" fill="#800000"/>
<polygon points="142.13,969.94 149.61,975.38 146.76,984.18 137.5,984.18 134.65,975.38" fill="#800000"/>
<polygon points="167.96,965.79 175.44,971.23 172.59,980.03 163.33,980.03 160.48,971.23" fill="#800000"/>
<polygon points="193.79,961.94 201.27,967.38 198.42,976.17 189.16,976.17 186.31,967.38" fill="#800000"/>
<polygon points="219.62,955.71 227.1,961.15 224.25,969.95 214.99,969.95 212.14,961.15" fill="#800000"/>
<polygon points="245.45,949.19 252.93,954.63 250.08,963.43 240.82,963.43 237.97,954.63" fill="#800000"/>
<polygon points="271.28,940.89 278.76,946.33 275.91,955.13 266.65,955.13 263.8,946.33" fill="#800000"/>
<polygon points="297.11,930.82 304.59,936.25 301.74,945.05 292.48,945.05 289.63,936.25" fill="#800000"/>
<polygon points="322.94,919.2 330.42,924.63 327.57,933.43 318.31,933.43 315.46,924.63" fill="#800000"/>
<path d="M116.30 994.30v-4.70 M116.30 786.40v4.70 M167.96 994.30v-4.70 M167.96 786.40v4.70 M219.62 994.30v-4.70 M219.62 786.40v4.70 M271.28 994.30v-4.70 M271.28 786.40v4.70 M322.94 994.30v-4.70 M322.94 786.40v4.70 M142.13 994.30v-2.90 M142.13 786.40v2.90 M193.79 994.30v-2.90 M193.79 786.40v2.90 M245.45 994.30v-2.90 M245.45 786.40v2.90 M297.11 994.30v-2.90 M297.11 786.40v2.90 M90.00 979.10h4.70 M90.00 919.82h4.70 M90.00 860.54h4.70 M90.00 801.26h4.70 M90.00 949.46h2.90 M90.00 890.18h2.90 M90.00 830.90h2.90 M349.10 979.10h-4.70 M349.10 949.46h-4.70 M349.10 919.82h-4.70 M349.10 890.18h-4.70 M349.10 860.54h-4.70 M349.10 830.90h-4.70 M349.10 801.26h-4.70 M349.10 964.28h-2.90 M349.10 934.64h-2.90 M349.10 905.00h-2.90 M349.10 875.36h-2.90 M349.10 845.72h-2.90 M349.10 816.08h-2.90" stroke="#000" stroke-width="1.8" fill="none"/>
<rect x="90.00" y="786.40" width="259.10" height="207.90" fill="none" stroke="#000" stroke-width="2.1"/>
<text x="116.0" y="1016.3" text-anchor="middle" font-weight="bold" font-size="22">1</text>
<text x="167.7" y="1016.3" text-anchor="middle" font-weight="bold" font-size="22">2</text>
<text x="219.3" y="1016.3" text-anchor="middle" font-weight="bold" font-size="22">3</text>
<text x="271.0" y="1016.3" text-anchor="middle" font-weight="bold" font-size="22">4</text>
<text x="322.6" y="1016.3" text-anchor="middle" font-weight="bold" font-size="22">5</text>
<text x="85.0" y="985.1" text-anchor="end" font-weight="bold" font-size="22">0.0</text>
<text x="85.0" y="925.8" text-anchor="end" font-weight="bold" font-size="22">0.1</text>
<text x="85.0" y="866.5" text-anchor="end" font-weight="bold" font-size="22">0.2</text>
<text x="85.0" y="807.3" text-anchor="end" font-weight="bold" font-size="22">0.3</text>
<text x="99.0" y="817.4" font-weight="bold" font-size="32">g</text>
<text x="284.6" y="981.8" font-size="33.2">PGP</text>
<path d="M124.3 803.8H150.3" stroke="#000000" stroke-width="1.9"/>
<rect x="132.3" y="798.8" width="9.99" height="9.99" fill="#000000"/>
<text x="150.3" y="807.1" font-style="italic" font-size="10.8">k<tspan font-size="7.5" dy="4.6" dx="-0.2">S</tspan><tspan dy="-4.6" dx="0.3">=31</tspan></text>
<path d="M124.3 821.4H150.3" stroke="#ff0000" stroke-width="1.9"/>
<circle cx="137.3" cy="821.4" r="5.46" fill="#ff0000"/>
<text x="150.3" y="824.7" font-style="italic" font-size="10.8">k<tspan font-size="7.5" dy="4.6" dx="-0.2">S</tspan><tspan dy="-4.6" dx="0.3">=21</tspan></text>
<path d="M124.3 838.8H150.3" stroke="#0000ff" stroke-width="1.9"/>
<polygon points="137.3,831.69 130.76,843.23 143.84,843.23" fill="#0000ff"/>
<text x="153.1" y="842.1" font-style="italic" font-size="10.8">k<tspan font-size="7.5" dy="4.6" dx="-0.2">S</tspan><tspan dy="-4.6" dx="0.3">=16</tspan></text>
<path d="M124.3 856.1H150.3" stroke="#008080" stroke-width="1.9"/>
<polygon points="137.3,863.21 130.76,851.67 143.84,851.67" fill="#008080"/>
<text x="153.1" y="859.4" font-style="italic" font-size="10.8">k<tspan font-size="7.5" dy="4.6" dx="-0.2">S</tspan><tspan dy="-4.6" dx="0.3">=15</tspan></text>
<path d="M124.3 873.5H150.3" stroke="#ff00ff" stroke-width="1.9"/>
<polygon points="130.19,873.5 141.73,866.96 141.73,880.04" fill="#ff00ff"/>
<text x="153.1" y="876.8" font-style="italic" font-size="10.8">k<tspan font-size="7.5" dy="4.6" dx="-0.2">S</tspan><tspan dy="-4.6" dx="0.3">=12</tspan></text>
<path d="M176.3 803.8H202.4" stroke="#808000" stroke-width="1.9"/>
<polygon points="196.91,803.8 185.37,797.26 185.37,810.34" fill="#808000"/>
<text x="205.2" y="807.1" font-style="italic" font-size="10.8">k<tspan font-size="7.5" dy="4.6" dx="-0.2">S</tspan><tspan dy="-4.6" dx="0.3">=10</tspan></text>
<path d="M179.1 821.4H205.2" stroke="#000080" stroke-width="1.9"/>
<polygon points="192.2,814.81 198.48,821.4 192.2,827.99 185.92,821.4" fill="#000080"/>
<text x="207.8" y="824.7" font-style="italic" font-size="10.8">k<tspan font-size="7.5" dy="4.6" dx="-0.2">S</tspan><tspan dy="-4.6" dx="0.3">=2</tspan></text>
<path d="M181.7 838.8H207.8" stroke="#800000" stroke-width="1.9"/>
<polygon points="195.2,832.57 201.52,837.16 199.1,844.59 191.3,844.59 188.88,837.16" fill="#800000"/>
<text x="207.8" y="842.1" font-style="italic" font-size="10.8">avg</text>
<polyline fill="none" stroke="#000000" stroke-width="1.9" stroke-linejoin="round" points="456.1,967.5 481.9,957.8 507.8,942.5 533.6,916.2 559.4,885.1 585.2,853.8 611.1,830.9 636.9,811.2 662.7,797.2"/>
<rect x="450.18" y="961.55" width="11.83" height="11.83" fill="#000000"/>
<rect x="476.01" y="951.85" width="11.83" height="11.83" fill="#000000"/>
<rect x="501.84" y="936.6" width="11.83" height="11.83" fill="#000000"/>
<rect x="527.67" y="910.27" width="11.83" height="11.83" fill="#000000"/>
<rect x="553.5" y="879.18" width="11.83" height="11.83" fill="#000000"/>
<rect x="579.33" y="847.9" width="11.83" height="11.83" fill="#000000"/>
<rect x="605.16" y="824.93" width="11.83" height="11.83" fill="#000000"/>
<rect x="630.99" y="805.33" width="11.83" height="11.83" fill="#000000"/>
<rect x="656.82" y="791.27" width="11.83" height="11.83" fill="#000000"/>
<polyline fill="none" stroke="#ff0000" stroke-width="1.9" stroke-linejoin="round" points="456.1,972.4 481.9,968.5 507.8,959.5 533.6,941.7 559.4,915.0 585.2,879.4 611.1,844.7 636.9,820.9 662.7,803.1"/>
<circle cx="456.1" cy="972.42" r="5.83" fill="#ff0000"/>
<circle cx="481.93" cy="968.46" r="5.83" fill="#ff0000"/>
<circle cx="507.76" cy="959.55" r="5.83" fill="#ff0000"/>
<circle cx="533.59" cy="941.73" r="5.83" fill="#ff0000"/>
<circle cx="559.42" cy="915" r="5.83" fill="#ff0000"/>
<circle cx="585.25" cy="879.36" r="5.83" fill="#ff0000"/>
<circle cx="611.08" cy="844.71" r="5.83" fill="#ff0000"/>
<circle cx="636.91" cy="820.95" r="5.83" fill="#ff0000"/>
<circle cx="662.74" cy="803.13" r="5.83" fill="#ff0000"/>
<polyline fill="none" stroke="#0000ff" stroke-width="1.9" stroke-linejoin="round" points="456.1,971.4 481.9,966.5 507.8,956.6 533.6,935.8 559.4,905.7 585.2,868.9 611.1,834.8 636.9,817.6 662.7,798.6"/>
<polygon points="456.1,962.05 447.46,977.28 464.74,977.28" fill="#0000ff"/>
<polygon points="481.93,957.1 473.29,972.33 490.57,972.33" fill="#0000ff"/>
<polygon points="507.76,947.2 499.12,962.43 516.4,962.43" fill="#0000ff"/>
<polygon points="533.59,926.41 524.95,941.64 542.23,941.64" fill="#0000ff"/>
<polygon points="559.42,896.31 550.78,911.54 568.06,911.54" fill="#0000ff"/>
<polygon points="585.25,859.48 576.61,874.71 593.89,874.71" fill="#0000ff"/>
<polygon points="611.08,825.43 602.44,840.66 619.72,840.66" fill="#0000ff"/>
<polygon points="636.91,808.2 628.27,823.43 645.55,823.43" fill="#0000ff"/>
<polygon points="662.74,789.19 654.1,804.42 671.38,804.42" fill="#0000ff"/>
<polyline fill="none" stroke="#008080" stroke-width="1.9" stroke-linejoin="round" points="456.1,971.4 481.9,966.5 507.8,956.4 533.6,934.3 559.4,905.7 585.2,867.9 611.1,839.4 636.9,816.6 662.7,798.6"/>
<polygon points="456.1,980.81 447.46,965.58 464.74,965.58" fill="#008080"/>
<polygon points="481.93,975.86 473.29,960.63 490.57,960.63" fill="#008080"/>
<polygon points="507.76,965.77 499.12,950.53 516.4,950.53" fill="#008080"/>
<polygon points="533.59,943.69 524.95,928.46 542.23,928.46" fill="#008080"/>
<polygon points="559.42,915.08 550.78,899.85 568.06,899.85" fill="#008080"/>
<polygon points="585.25,877.26 576.61,862.03 593.89,862.03" fill="#008080"/>
<polygon points="611.08,848.75 602.44,833.52 619.72,833.52" fill="#008080"/>
<polygon points="636.91,825.98 628.27,810.75 645.55,810.75" fill="#008080"/>
<polygon points="662.74,807.96 654.1,792.73 671.38,792.73" fill="#008080"/>
<polyline fill="none" stroke="#ff00ff" stroke-width="1.9" stroke-linejoin="round" points="456.1,972.4 481.9,968.5 507.8,958.6 533.6,938.8 559.4,910.2 585.2,878.0 611.1,848.3 636.9,823.3 662.7,804.7"/>
<polygon points="446.72,972.42 461.95,963.78 461.95,981.06" fill="#ff00ff"/>
<polygon points="472.55,968.46 487.78,959.82 487.78,977.1" fill="#ff00ff"/>
<polygon points="498.38,958.56 513.61,949.92 513.61,967.2" fill="#ff00ff"/>
<polygon points="524.21,938.76 539.44,930.12 539.44,947.4" fill="#ff00ff"/>
<polygon points="550.04,910.25 565.27,901.61 565.27,918.88" fill="#ff00ff"/>
<polygon points="575.87,877.97 591.1,869.34 591.1,886.61" fill="#ff00ff"/>
<polygon points="601.7,848.27 616.93,839.64 616.93,856.91" fill="#ff00ff"/>
<polygon points="627.53,823.33 642.76,814.69 642.76,831.96" fill="#ff00ff"/>
<polygon points="653.36,804.71 668.59,796.08 668.59,813.35" fill="#ff00ff"/>
<polyline fill="none" stroke="#808000" stroke-width="1.9" stroke-linejoin="round" points="456.1,973.4 481.9,970.4 507.8,964.9 533.6,951.6 559.4,926.9 585.2,895.2 611.1,865.5 636.9,837.8 662.7,816.0"/>
<polygon points="465.48,973.41 450.25,964.77 450.25,982.05" fill="#808000"/>
<polygon points="491.31,970.44 476.08,961.8 476.08,979.08" fill="#808000"/>
<polygon points="517.14,964.9 501.91,956.26 501.91,973.53" fill="#808000"/>
<polygon points="542.97,951.63 527.74,942.99 527.74,960.27" fill="#808000"/>
<polygon points="568.8,926.88 553.57,918.24 553.57,935.52" fill="#808000"/>
<polygon points="594.63,895.2 579.4,886.56 579.4,903.84" fill="#808000"/>
<polygon points="620.46,865.5 605.23,856.86 605.23,874.14" fill="#808000"/>
<polygon points="646.29,837.78 631.06,829.14 631.06,846.42" fill="#808000"/>
<polygon points="672.12,816 656.89,807.36 656.89,824.64" fill="#808000"/>
<polyline fill="none" stroke="#000080" stroke-width="1.9" stroke-linejoin="round" points="456.1,972.6 481.9,969.6 507.8,962.9 533.6,947.9 559.4,922.9 585.2,892.0 611.1,862.5 636.9,836.4 662.7,816.0"/>
<polygon points="456.1,963.79 464.52,972.62 456.1,981.45 447.68,972.62" fill="#000080"/>
<polygon points="481.93,960.82 490.35,969.65 481.93,978.48 473.51,969.65" fill="#000080"/>
<polygon points="507.76,954.08 516.18,962.92 507.76,971.75 499.34,962.92" fill="#000080"/>
<polygon points="533.59,939.04 542.01,947.87 533.59,956.7 525.17,947.87" fill="#000080"/>
<polygon points="559.42,914.09 567.84,922.92 559.42,931.75 551,922.92" fill="#000080"/>
<polygon points="585.25,883.2 593.67,892.03 585.25,900.86 576.83,892.03" fill="#000080"/>
<polygon points="611.08,853.7 619.5,862.53 611.08,871.36 602.66,862.53" fill="#000080"/>
<polygon points="636.91,827.56 645.33,836.39 636.91,845.23 628.49,836.39" fill="#000080"/>
<polygon points="662.74,807.17 671.16,816 662.74,824.83 654.32,816" fill="#000080"/>
<path d="M456.10 994.30v-4.70 M456.10 786.40v4.70 M507.76 994.30v-4.70 M507.76 786.40v4.70 M559.42 994.30v-4.70 M559.42 786.40v4.70 M611.08 994.30v-4.70 M611.08 786.40v4.70 M662.74 994.30v-4.70 M662.74 786.40v4.70 M481.93 994.30v-2.90 M481.93 786.40v2.90 M533.59 994.30v-2.90 M533.59 786.40v2.90 M585.25 994.30v-2.90 M585.25 786.40v2.90 M636.91 994.30v-2.90 M636.91 786.40v2.90 M430.00 974.40h4.70 M688.70 974.40h-4.70 M430.00 934.80h4.70 M688.70 934.80h-4.70 M430.00 895.20h4.70 M688.70 895.20h-4.70 M430.00 855.60h4.70 M688.70 855.60h-4.70 M430.00 816.00h4.70 M688.70 816.00h-4.70 M430.00 954.60h2.90 M688.70 954.60h-2.90 M430.00 915.00h2.90 M688.70 915.00h-2.90 M430.00 875.40h2.90 M688.70 875.40h-2.90 M430.00 835.80h2.90 M688.70 835.80h-2.90 M430.00 796.20h2.90 M688.70 796.20h-2.90" stroke="#000" stroke-width="1.8" fill="none"/>
<rect x="430.00" y="786.40" width="258.70" height="207.90" fill="none" stroke="#000" stroke-width="2.1"/>
<text x="455.8" y="1016.3" text-anchor="middle" font-weight="bold" font-size="22">1</text>
<text x="507.5" y="1016.3" text-anchor="middle" font-weight="bold" font-size="22">2</text>
<text x="559.1" y="1016.3" text-anchor="middle" font-weight="bold" font-size="22">3</text>
<text x="610.8" y="1016.3" text-anchor="middle" font-weight="bold" font-size="22">4</text>
<text x="662.4" y="1016.3" text-anchor="middle" font-weight="bold" font-size="22">5</text>
<text x="425.0" y="980.4" text-anchor="end" font-weight="bold" font-size="22">0.0</text>
<text x="425.0" y="940.8" text-anchor="end" font-weight="bold" font-size="22">0.2</text>
<text x="425.0" y="901.2" text-anchor="end" font-weight="bold" font-size="22">0.4</text>
<text x="425.0" y="861.6" text-anchor="end" font-weight="bold" font-size="22">0.6</text>
<text x="425.0" y="822.0" text-anchor="end" font-weight="bold" font-size="22">0.8</text>
<text x="441.8" y="818.6" font-weight="bold" font-size="32">h</text>
<text x="518.8" y="818.6" font-size="33.2">Netsci</text>
<path d="M441.1 837.1H466.7" stroke="#000000" stroke-width="1.9"/>
<rect x="449.1" y="832.1" width="9.99" height="9.99" fill="#000000"/>
<text x="466.7" y="840.4" font-style="italic" font-size="10.8">k<tspan font-size="7.5" dy="4.6" dx="-0.2">S</tspan><tspan dy="-4.6" dx="0.3">=8</tspan></text>
<path d="M441.1 854.8H466.7" stroke="#ff0000" stroke-width="1.9"/>
<circle cx="454.1" cy="854.8" r="5.46" fill="#ff0000"/>
<text x="466.7" y="858.1" font-style="italic" font-size="10.8">k<tspan font-size="7.5" dy="4.6" dx="-0.2">S</tspan><tspan dy="-4.6" dx="0.3">=7</tspan></text>
<path d="M441.1 872.4H466.7" stroke="#0000ff" stroke-width="1.9"/>
<polygon points="454.1,865.29 447.56,876.83 460.64,876.83" fill="#0000ff"/>
<text x="466.7" y="875.7" font-style="italic" font-size="10.8">k<tspan font-size="7.5" dy="4.6" dx="-0.2">S</tspan><tspan dy="-4.6" dx="0.3">=6</tspan></text>
<path d="M441.1 889.8H466.7" stroke="#008080" stroke-width="1.9"/>
<polygon points="454.1,896.91 447.56,885.37 460.64,885.37" fill="#008080"/>
<text x="466.7" y="893.1" font-style="italic" font-size="10.8">k<tspan font-size="7.5" dy="4.6" dx="-0.2">S</tspan><tspan dy="-4.6" dx="0.3">=5</tspan></text>
<path d="M441.1 907.5H466.7" stroke="#ff00ff" stroke-width="1.9"/>
<polygon points="446.99,907.5 458.53,900.96 458.53,914.04" fill="#ff00ff"/>
<text x="466.7" y="910.8" font-style="italic" font-size="10.8">k<tspan font-size="7.5" dy="4.6" dx="-0.2">S</tspan><tspan dy="-4.6" dx="0.3">=4</tspan></text>
<path d="M487.3 837.1H513.3" stroke="#808000" stroke-width="1.9"/>
<polygon points="508.11,837.1 496.57,830.56 496.57,843.64" fill="#808000"/>
<text x="513.3" y="840.4" font-style="italic" font-size="10.8">k<tspan font-size="7.5" dy="4.6" dx="-0.2">S</tspan><tspan dy="-4.6" dx="0.3">=3</tspan></text>
<path d="M490.1 854.8H516.1" stroke="#000080" stroke-width="1.9"/>
<polygon points="503.6,848.21 509.88,854.8 503.6,861.39 497.32,854.8" fill="#000080"/>
<text x="516.1" y="858.1" font-style="italic" font-size="10.8">avg</text>
<polyline fill="none" stroke="#000000" stroke-width="1.9" stroke-linejoin="round" points="799.6,975.9 825.4,949.1 851.3,923.3 877.1,982.0 902.9,982.0 928.8,982.0 954.6,982.0 980.4,982.0 1006.2,982.0"/>
<rect x="793.79" y="970.05" width="11.61" height="11.61" fill="#000000"/>
<rect x="819.62" y="943.33" width="11.61" height="11.61" fill="#000000"/>
<rect x="845.45" y="917.5" width="11.61" height="11.61" fill="#000000"/>
<rect x="871.28" y="976.19" width="11.61" height="11.61" fill="#000000"/>
<rect x="897.11" y="976.19" width="11.61" height="11.61" fill="#000000"/>
<rect x="922.94" y="976.19" width="11.61" height="11.61" fill="#000000"/>
<rect x="948.77" y="976.19" width="11.61" height="11.61" fill="#000000"/>
<rect x="974.6" y="976.19" width="11.61" height="11.61" fill="#000000"/>
<rect x="1000.43" y="976.19" width="11.61" height="11.61" fill="#000000"/>
<polyline fill="none" stroke="#ff0000" stroke-width="1.9" stroke-linejoin="round" points="799.6,982.0 825.4,981.2 851.3,978.1 877.1,982.0 902.9,982.0 928.8,982.0 954.6,982.0 980.4,982.0 1006.2,982.0"/>
<circle cx="799.6" cy="982" r="7.4" fill="#ff0000"/>
<circle cx="825.43" cy="981.22" r="7.4" fill="#ff0000"/>
<circle cx="851.26" cy="978.09" r="7.4" fill="#ff0000"/>
<circle cx="877.09" cy="982" r="7.4" fill="#ff0000"/>
<circle cx="902.92" cy="982" r="7.4" fill="#ff0000"/>
<circle cx="928.75" cy="982" r="7.4" fill="#ff0000"/>
<circle cx="954.58" cy="982" r="7.4" fill="#ff0000"/>
<circle cx="980.41" cy="982" r="7.4" fill="#ff0000"/>
<circle cx="1006.24" cy="982" r="7.4" fill="#ff0000"/>
<polyline fill="none" stroke="#0000ff" stroke-width="1.9" stroke-linejoin="round" points="799.6,979.3 825.4,961.3 851.3,942.9 877.1,982.0 902.9,982.0 928.8,982.0 954.6,982.0 980.4,982.0 1006.2,982.0"/>
<polygon points="799.6,970.08 791.15,984.98 808.05,984.98" fill="#0000ff"/>
<polygon points="825.43,952.08 816.98,966.98 833.88,966.98" fill="#0000ff"/>
<polygon points="851.26,933.69 842.81,948.59 859.71,948.59" fill="#0000ff"/>
<polygon points="877.09,972.82 868.64,987.72 885.54,987.72" fill="#0000ff"/>
<polygon points="902.92,972.82 894.47,987.72 911.37,987.72" fill="#0000ff"/>
<polygon points="928.75,972.82 920.3,987.72 937.2,987.72" fill="#0000ff"/>
<polygon points="954.58,972.82 946.13,987.72 963.03,987.72" fill="#0000ff"/>
<polygon points="980.41,972.82 971.96,987.72 988.86,987.72" fill="#0000ff"/>
<polygon points="1006.24,972.82 997.79,987.72 1014.69,987.72" fill="#0000ff"/>
<polyline fill="none" stroke="#008080" stroke-width="1.9" stroke-linejoin="round" points="799.6,982.0 825.4,980.4 851.3,978.1 877.1,982.0 902.9,982.0 928.8,982.0 954.6,982.0 980.4,982.0 1006.2,982.0"/>
<polygon points="799.6,991.18 791.15,976.28 808.05,976.28" fill="#008080"/>
<polygon points="825.43,989.61 816.98,974.72 833.88,974.72" fill="#008080"/>
<polygon points="851.26,987.26 842.81,972.37 859.71,972.37" fill="#008080"/>
<polygon points="877.09,991.18 868.64,976.28 885.54,976.28" fill="#008080"/>
<polygon points="902.92,991.18 894.47,976.28 911.37,976.28" fill="#008080"/>
<polygon points="928.75,991.18 920.3,976.28 937.2,976.28" fill="#008080"/>
<polygon points="954.58,991.18 946.13,976.28 963.03,976.28" fill="#008080"/>
<polygon points="980.41,991.18 971.96,976.28 988.86,976.28" fill="#008080"/>
<polygon points="1006.24,991.18 997.79,976.28 1014.69,976.28" fill="#008080"/>
<polyline fill="none" stroke="#ff00ff" stroke-width="1.9" stroke-linejoin="round" points="799.6,980.6 825.4,965.6 851.3,950.7 877.1,982.0 902.9,982.0 928.8,982.0 954.6,982.0 980.4,982.0 1006.2,982.0"/>
<polygon points="790.42,980.59 805.32,972.15 805.32,989.04" fill="#ff00ff"/>
<polygon points="816.25,965.57 831.15,957.12 831.15,974.01" fill="#ff00ff"/>
<polygon points="842.08,950.7 856.98,942.25 856.98,959.14" fill="#ff00ff"/>
<polygon points="867.91,982 882.81,973.55 882.81,990.45" fill="#ff00ff"/>
<polygon points="893.74,982 908.64,973.55 908.64,990.45" fill="#ff00ff"/>
<polygon points="919.57,982 934.47,973.55 934.47,990.45" fill="#ff00ff"/>
<polygon points="945.4,982 960.3,973.55 960.3,990.45" fill="#ff00ff"/>
<polygon points="971.23,982 986.13,973.55 986.13,990.45" fill="#ff00ff"/>
<polygon points="997.06,982 1011.96,973.55 1011.96,990.45" fill="#ff00ff"/>
<polyline fill="none" stroke="#808000" stroke-width="1.9" stroke-linejoin="round" points="799.6,979.7 825.4,966.0 851.3,950.7 877.1,982.0 902.9,982.0 928.8,982.0 954.6,982.0 980.4,982.0 1006.2,982.0"/>
<polygon points="808.78,979.65 793.88,971.21 793.88,988.1" fill="#808000"/>
<polygon points="834.61,965.96 819.71,957.51 819.71,974.4" fill="#808000"/>
<polygon points="860.44,950.7 845.54,942.25 845.54,959.14" fill="#808000"/>
<polygon points="886.27,982 871.37,973.55 871.37,990.45" fill="#808000"/>
<polygon points="912.1,982 897.2,973.55 897.2,990.45" fill="#808000"/>
<polygon points="937.93,982 923.03,973.55 923.03,990.45" fill="#808000"/>
<polygon points="963.76,982 948.86,973.55 948.86,990.45" fill="#808000"/>
<polygon points="989.59,982 974.69,973.55 974.69,990.45" fill="#808000"/>
<polygon points="1015.42,982 1000.52,973.55 1000.52,990.45" fill="#808000"/>
<polyline fill="none" stroke="#000080" stroke-width="1.9" stroke-linejoin="round" points="799.6,982.0 825.4,971.8 851.3,962.4 877.1,982.0 902.9,982.0 928.8,982.0 954.6,982.0 980.4,982.0 1006.2,982.0"/>
<polygon points="799.6,973.49 807.71,982 799.6,990.51 791.49,982" fill="#000080"/>
<polygon points="825.43,963.31 833.54,971.83 825.43,980.34 817.32,971.83" fill="#000080"/>
<polygon points="851.26,953.92 859.37,962.43 851.26,970.95 843.15,962.43" fill="#000080"/>
<polygon points="877.09,973.49 885.2,982 877.09,990.51 868.98,982" fill="#000080"/>
<polygon points="902.92,973.49 911.03,982 902.92,990.51 894.81,982" fill="#000080"/>
<polygon points="928.75,973.49 936.86,982 928.75,990.51 920.64,982" fill="#000080"/>
<polygon points="954.58,973.49 962.69,982 954.58,990.51 946.47,982" fill="#000080"/>
<polygon points="980.41,973.49 988.52,982 980.41,990.51 972.3,982" fill="#000080"/>
<polygon points="1006.24,973.49 1014.35,982 1006.24,990.51 998.13,982" fill="#000080"/>
<polyline fill="none" stroke="#800000" stroke-width="1.9" stroke-linejoin="round" points="799.6,982.0 825.4,973.8 851.3,966.3 877.1,982.0 902.9,982.0 928.8,982.0 954.6,982.0 980.4,982.0 1006.2,982.0"/>
<polygon points="799.6,973.95 807.76,979.88 804.64,989.47 794.56,989.47 791.44,979.88" fill="#800000"/>
<polygon points="825.43,965.74 833.59,971.66 830.47,981.25 820.39,981.25 817.27,971.66" fill="#800000"/>
<polygon points="851.26,958.3 859.42,964.23 856.3,973.82 846.22,973.82 843.1,964.23" fill="#800000"/>
<polygon points="877.09,973.95 885.25,979.88 882.13,989.47 872.05,989.47 868.93,979.88" fill="#800000"/>
<polygon points="902.92,973.95 911.08,979.88 907.96,989.47 897.88,989.47 894.76,979.88" fill="#800000"/>
<polygon points="928.75,973.95 936.91,979.88 933.79,989.47 923.71,989.47 920.59,979.88" fill="#800000"/>
<polygon points="954.58,973.95 962.74,979.88 959.62,989.47 949.54,989.47 946.42,979.88" fill="#800000"/>
<polygon points="980.41,973.95 988.57,979.88 985.45,989.47 975.37,989.47 972.25,979.88" fill="#800000"/>
<polygon points="1006.24,973.95 1014.4,979.88 1011.28,989.47 1001.2,989.47 998.08,979.88" fill="#800000"/>
<polyline fill="none" stroke="#008000" stroke-width="1.9" stroke-linejoin="round" points="799.6,982.0 825.4,982.0 851.3,982.0 877.1,982.0 902.9,982.0 928.8,982.0 954.6,982.0 980.4,982.0 1006.2,982.0"/>
<polygon points="806.25,982 802.93,987.76 796.27,987.76 792.95,982 796.27,976.24 802.93,976.24" fill="#008000"/>
<polygon points="832.08,982 828.76,987.76 822.11,987.76 818.78,982 822.11,976.24 828.76,976.24" fill="#008000"/>
<polygon points="857.91,982 854.59,987.76 847.93,987.76 844.61,982 847.93,976.24 854.59,976.24" fill="#008000"/>
<polygon points="883.74,982 880.42,987.76 873.76,987.76 870.44,982 873.76,976.24 880.42,976.24" fill="#008000"/>
<polygon points="909.57,982 906.25,987.76 899.6,987.76 896.27,982 899.6,976.24 906.25,976.24" fill="#008000"/>
<polygon points="935.4,982 932.08,987.76 925.42,987.76 922.1,982 925.42,976.24 932.08,976.24" fill="#008000"/>
<polygon points="961.23,982 957.91,987.76 951.25,987.76 947.93,982 951.25,976.24 957.91,976.24" fill="#008000"/>
<polygon points="987.06,982 983.74,987.76 977.09,987.76 973.76,982 977.09,976.24 983.74,976.24" fill="#008000"/>
<polygon points="1012.89,982 1009.57,987.76 1002.91,987.76 999.59,982 1002.91,976.24 1009.57,976.24" fill="#008000"/>
<polyline fill="none" stroke="#000080" stroke-width="1.9" stroke-linejoin="round" points="799.6,982.4 825.4,979.5 851.3,976.1 877.1,982.0 902.9,982.0 928.8,982.0 954.6,982.0 980.4,982.0 1006.2,982.0"/>
<circle cx="799.6" cy="982.39" r="7.02" fill="url(#ball)"/>
<circle cx="825.43" cy="979.5" r="7.02" fill="url(#ball)"/>
<circle cx="851.26" cy="976.13" r="7.02" fill="url(#ball)"/>
<circle cx="877.09" cy="982" r="7.02" fill="url(#ball)"/>
<circle cx="902.92" cy="982" r="7.02" fill="url(#ball)"/>
<circle cx="928.75" cy="982" r="7.02" fill="url(#ball)"/>
<circle cx="954.58" cy="982" r="7.02" fill="url(#ball)"/>
<circle cx="980.41" cy="982" r="7.02" fill="url(#ball)"/>
<circle cx="1006.24" cy="982" r="7.02" fill="url(#ball)"/>
<path d="M799.60 994.30v-4.70 M799.60 786.40v4.70 M851.26 994.30v-4.70 M851.26 786.40v4.70 M902.92 994.30v-4.70 M902.92 786.40v4.70 M954.58 994.30v-4.70 M954.58 786.40v4.70 M1006.24 994.30v-4.70 M1006.24 786.40v4.70 M825.43 994.30v-2.90 M825.43 786.40v2.90 M877.09 994.30v-2.90 M877.09 786.40v2.90 M928.75 994.30v-2.90 M928.75 786.40v2.90 M980.41 994.30v-2.90 M980.41 786.40v2.90 M774.00 982.00h4.70 M1033.00 982.00h-4.70 M774.00 942.87h4.70 M1033.00 942.87h-4.70 M774.00 903.74h4.70 M1033.00 903.74h-4.70 M774.00 864.61h4.70 M1033.00 864.61h-4.70 M774.00 825.48h4.70 M1033.00 825.48h-4.70 M774.00 786.35h4.70 M1033.00 786.35h-4.70 M774.00 962.43h2.90 M1033.00 962.43h-2.90 M774.00 923.30h2.90 M1033.00 923.30h-2.90 M774.00 884.17h2.90 M1033.00 884.17h-2.90 M774.00 845.05h2.90 M1033.00 845.05h-2.90 M774.00 805.91h2.90 M1033.00 805.91h-2.90" stroke="#000" stroke-width="1.8" fill="none"/>
<rect x="774.00" y="786.40" width="259.00" height="207.90" fill="none" stroke="#000" stroke-width="2.1"/>
<text x="799.3" y="1016.3" text-anchor="middle" font-weight="bold" font-size="22">1</text>
<text x="851.0" y="1016.3" text-anchor="middle" font-weight="bold" font-size="22">2</text>
<text x="902.6" y="1016.3" text-anchor="middle" font-weight="bold" font-size="22">3</text>
<text x="954.3" y="1016.3" text-anchor="middle" font-weight="bold" font-size="22">4</text>
<text x="1005.9" y="1016.3" text-anchor="middle" font-weight="bold" font-size="22">5</text>
<text x="769.0" y="988.0" text-anchor="end" font-weight="bold" font-size="22">0.0</text>
<text x="769.0" y="948.9" text-anchor="end" font-weight="bold" font-size="22">0.1</text>
<text x="769.0" y="909.7" text-anchor="end" font-weight="bold" font-size="22">0.2</text>
<text x="769.0" y="870.6" text-anchor="end" font-weight="bold" font-size="22">0.3</text>
<text x="769.0" y="831.5" text-anchor="end" font-weight="bold" font-size="22">0.4</text>
<text x="769.0" y="792.4" text-anchor="end" font-weight="bold" font-size="22">0.5</text>
<text x="783.6" y="817.6" font-weight="bold" font-size="32">i</text>
<path d="M803.2 805.4H829.2" stroke="#000000" stroke-width="1.9"/>
<rect x="811.5" y="800.4" width="9.99" height="9.99" fill="#000000"/>
<text x="829.2" y="808.7" font-style="italic" font-size="10.8">k<tspan font-size="7.5" dy="4.6" dx="-0.2">S</tspan><tspan dy="-4.6" dx="0.3">=9</tspan></text>
<path d="M803.2 823.0H829.2" stroke="#ff0000" stroke-width="1.9"/>
<circle cx="816.5" cy="823" r="5.46" fill="#ff0000"/>
<text x="829.2" y="826.3" font-style="italic" font-size="10.8">k<tspan font-size="7.5" dy="4.6" dx="-0.2">S</tspan><tspan dy="-4.6" dx="0.3">=8</tspan></text>
<path d="M803.2 840.5H829.2" stroke="#0000ff" stroke-width="1.9"/>
<polygon points="816.5,833.39 809.96,844.93 823.04,844.93" fill="#0000ff"/>
<text x="829.2" y="843.8" font-style="italic" font-size="10.8">k<tspan font-size="7.5" dy="4.6" dx="-0.2">S</tspan><tspan dy="-4.6" dx="0.3">=7</tspan></text>
<path d="M803.2 857.8H829.2" stroke="#008080" stroke-width="1.9"/>
<polygon points="816.5,864.91 809.96,853.37 823.04,853.37" fill="#008080"/>
<text x="829.2" y="861.1" font-style="italic" font-size="10.8">k<tspan font-size="7.5" dy="4.6" dx="-0.2">S</tspan><tspan dy="-4.6" dx="0.3">=6</tspan></text>
<path d="M803.2 875.2H829.2" stroke="#ff00ff" stroke-width="1.9"/>
<polygon points="809.39,875.2 820.93,868.66 820.93,881.74" fill="#ff00ff"/>
<text x="829.2" y="878.5" font-style="italic" font-size="10.8">k<tspan font-size="7.5" dy="4.6" dx="-0.2">S</tspan><tspan dy="-4.6" dx="0.3">=5</tspan></text>
<path d="M803.2 892.8H829.2" stroke="#808000" stroke-width="1.9"/>
<polygon points="823.61,892.8 812.07,886.26 812.07,899.34" fill="#808000"/>
<text x="829.2" y="896.1" font-style="italic" font-size="10.8">k<tspan font-size="7.5" dy="4.6" dx="-0.2">S</tspan><tspan dy="-4.6" dx="0.3">=4</tspan></text>
<text transform="translate(36.1 368.4) rotate(-90) scale(1.08 0.95)" text-anchor="middle" font-weight="bold" font-style="italic" font-size="35">M</text>
<text transform="translate(36.1 630.1) rotate(-90) scale(1.08 0.95)" text-anchor="middle" font-weight="bold" font-style="italic" font-size="35">M</text>
<text transform="translate(36.1 891.6) rotate(-90) scale(1.08 0.95)" text-anchor="middle" font-weight="bold" font-style="italic" font-size="35">M</text>
<text y="1055.0" font-weight="bold" font-style="italic" font-size="33"><tspan x="195.3">q</tspan><tspan x="229.3" font-size="21" dy="11.8">c</tspan></text>
<text transform="translate(214.1 1054.7) scale(1.155 0.96)" font-weight="bold" font-style="italic" font-size="33">λ</text>
<text y="1055.0" font-weight="bold" font-style="italic" font-size="33"><tspan x="537.1">q</tspan><tspan x="571.1" font-size="21" dy="11.8">c</tspan></text>
<text transform="translate(555.9 1054.7) scale(1.155 0.96)" font-weight="bold" font-style="italic" font-size="33">λ</text>
</svg>
</body></html>
